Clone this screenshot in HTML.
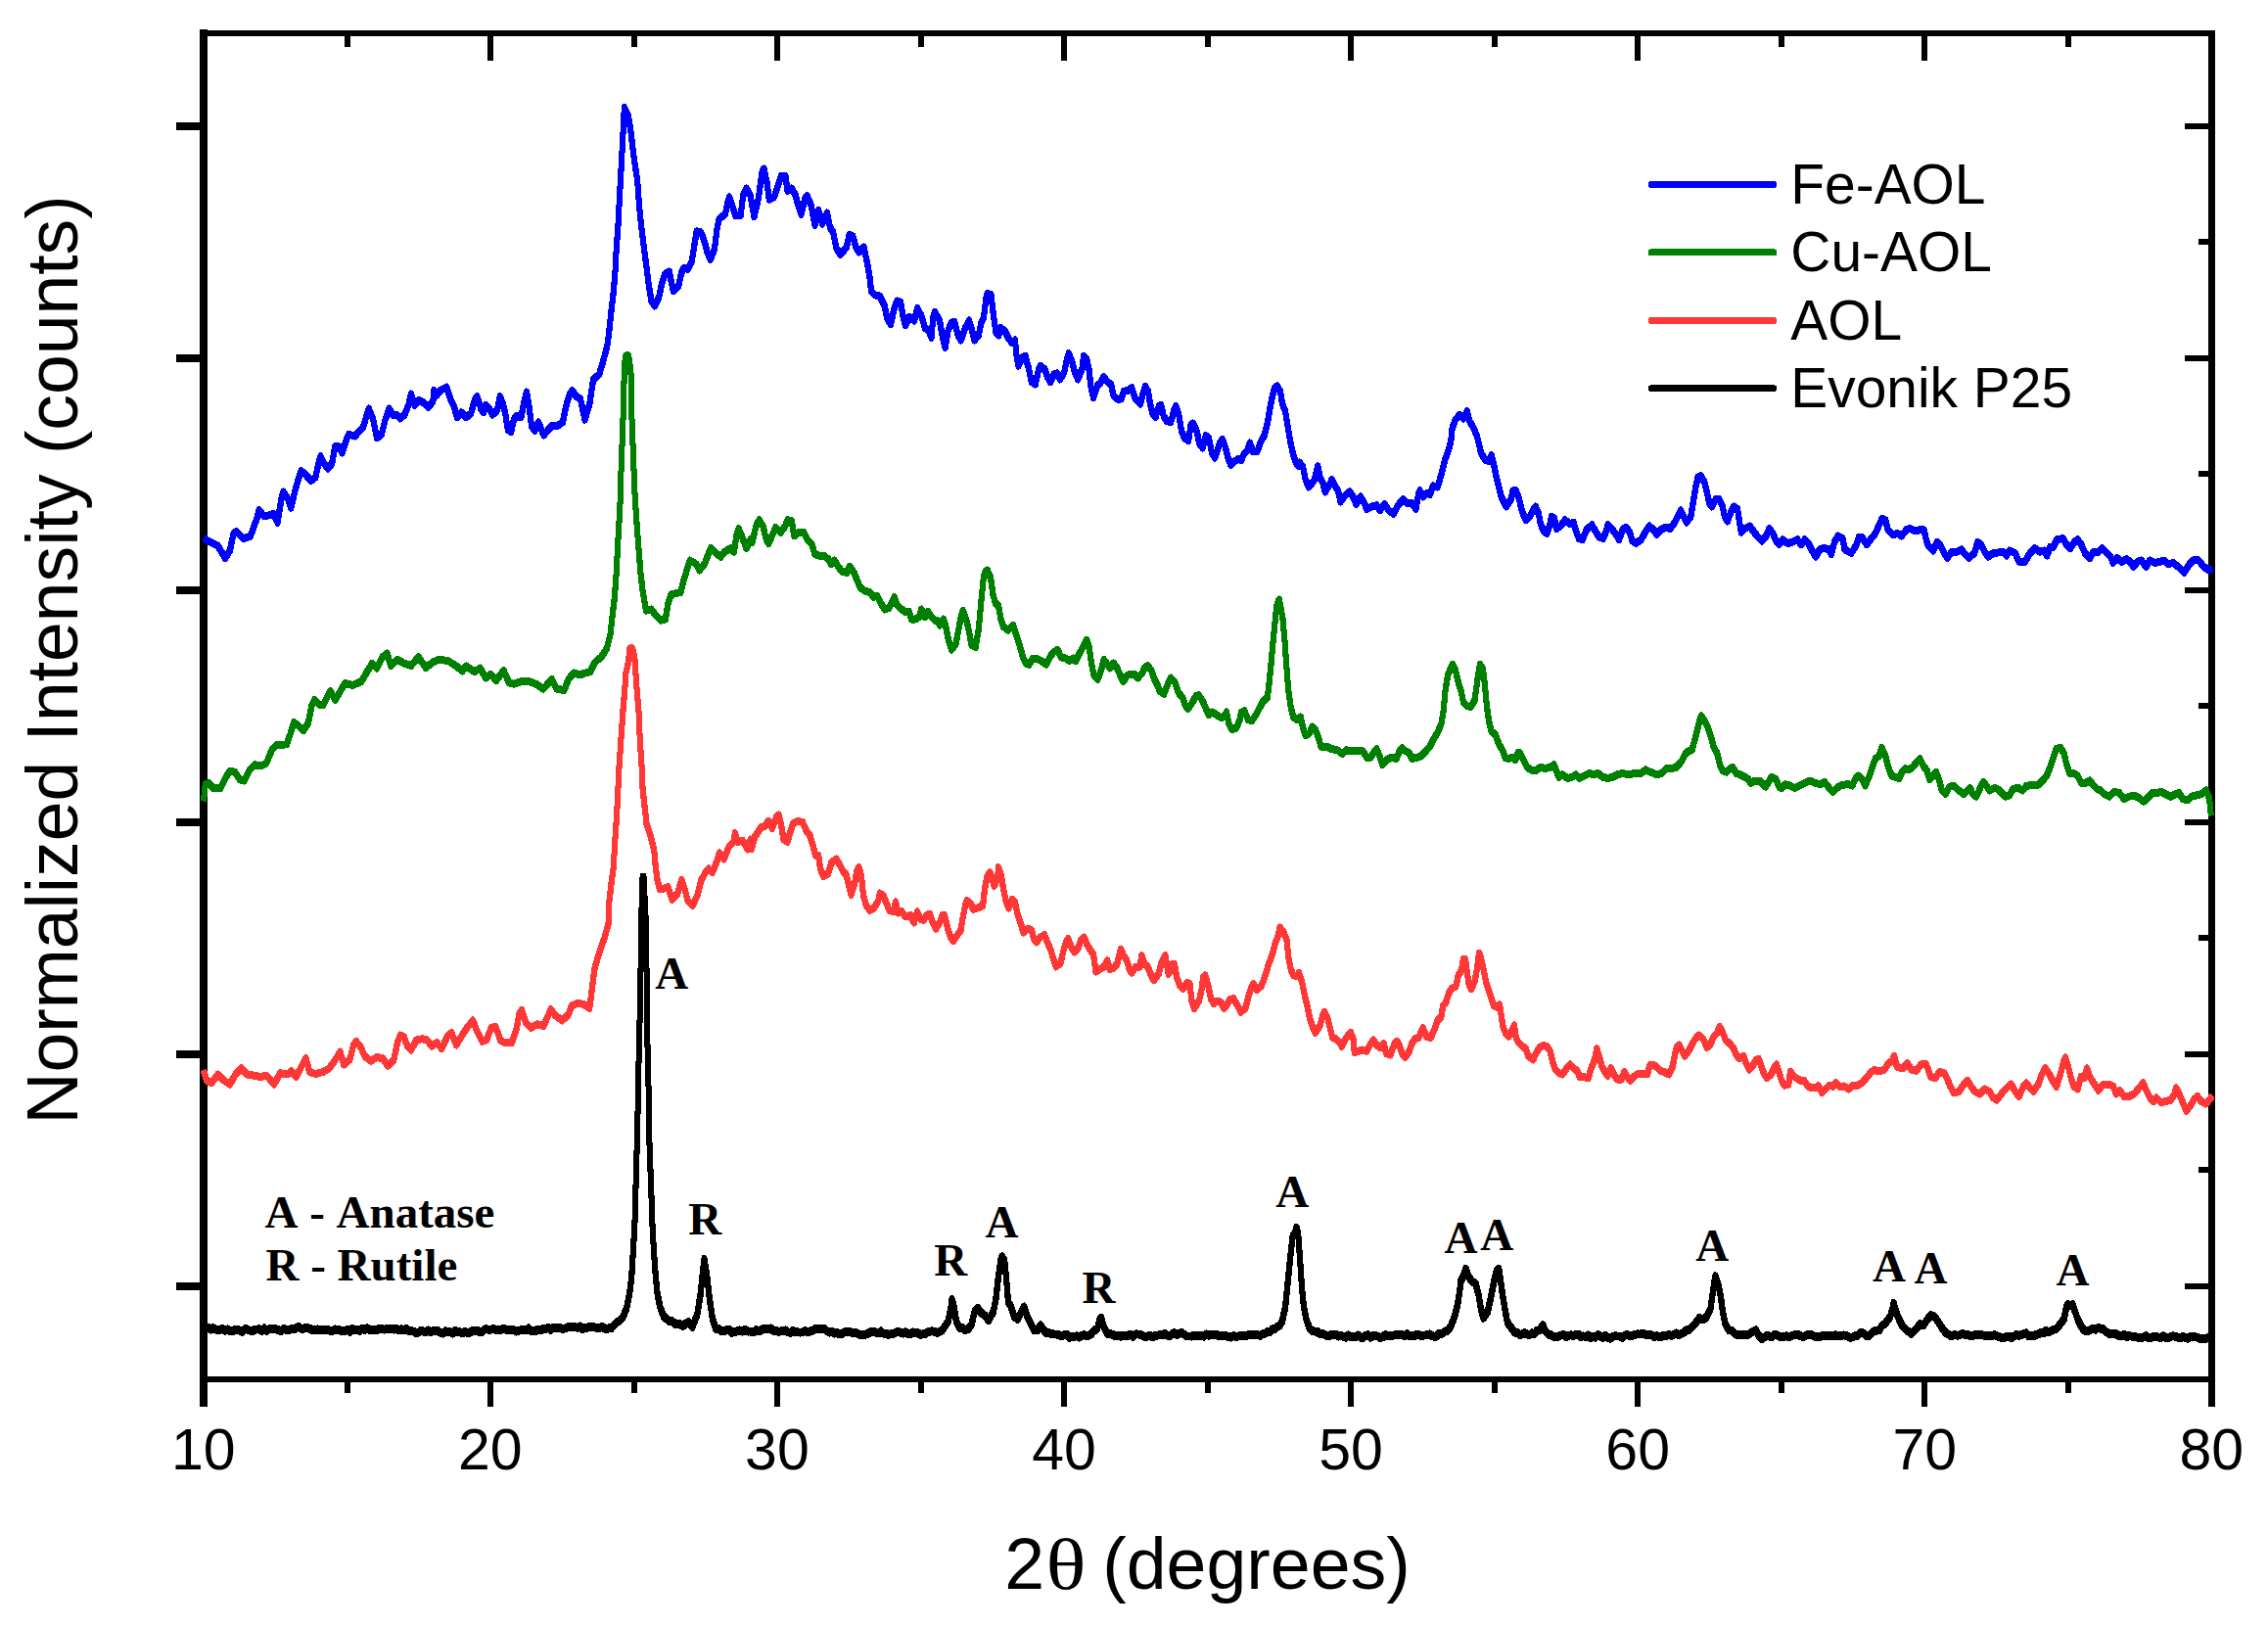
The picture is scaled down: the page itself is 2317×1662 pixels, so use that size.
<!DOCTYPE html>
<html lang="en"><head><meta charset="utf-8"><title>XRD patterns</title>
<style>html,body{margin:0;padding:0;background:#fff}body{width:2317px;height:1662px;overflow:hidden}svg{display:block}.s{font-family:"Liberation Sans",sans-serif;fill:#000;font-kerning:none}.b{font-family:"Liberation Serif",serif;font-weight:bold;fill:#000;font-size:47px;font-kerning:none}</style></head><body>
<svg width="2317" height="1662" viewBox="0 0 2317 1662" shape-rendering="crispEdges">
<rect width="2317" height="1662" fill="#fff"/>
<path d="M208,30.2 V1436.8" stroke="#000" stroke-width="8" fill="none"/>
<path d="M2259.5,31 V1436.8" stroke="#000" stroke-width="6.9" fill="none"/>
<path d="M204,34 H2263 M204,1409 H2263" stroke="#000" stroke-width="6" fill="none"/>
<g fill="none" stroke="#0000ff" stroke-width="6" stroke-linejoin="round" stroke-linecap="butt" shape-rendering="crispEdges">
<polyline transform="translate(0,-1)" points="208,550 215,553.75 222.5,557.5 230,570 234.85,562.5 238.6,545 241.25,543 248.75,550 255.69,548 262.35,530 264.5,521.25 270,527.5 275,526.25 279.5,525 283.6,533.75 287.35,510 289.5,502.5 293.75,508.75 297.27,518.75 301.1,502.5 303.6,493.75 307.69,481.25 312.5,485 317.5,491.25 322.35,487.5 325.35,473.75 327.5,466.25 331.25,473.75 335,478.75 339.1,473.75 342.3,456.25 346.25,456.25 349.52,462.5 353.6,450 356.25,443.75 362.5,445.5 370.94,436.25 376.8,417.5 381.25,428.75 385,447.5 389.85,443.75 393.6,428.75 397.5,417.5 401.25,423.75 405,423.75 408.75,427.5 413.35,423.75 417.35,413.75 420,402.5 423.75,413.75 427.5,408.75 432.5,411.25 437.5,416.25 442.35,410 443.45,398.75 446.25,403.75 450.15,398.75 456.25,395.5 460,407.5 463.75,415 467,426.25 471.25,421.25 476.25,426.25 481.1,422.5 484.85,408.75 487.5,405 491.25,417.5 493.85,421.25 496.25,413.75 500,417.5 503,423.75 508.1,418.75 510.72,405 513.75,412.5 516.25,422.5 518.75,438.75 522.21,441.25 524.85,428.75 527.5,425 532.35,426.25 536.1,407.5 538,400.5 540.5,415 543,435 546.25,440 550,431.25 555.5,444.5 560.38,438.75 563.75,435 568.75,435.5 574.85,431.25 578.6,413.75 582.31,402.5 584.5,398.75 588.75,405 593,407.5 597.5,428.75 602.35,412.5 606.1,387.5 612.15,382.5 616.6,367.5 620.4,352.9 621.9,342.3 624.2,320.2 626.8,298.2 628.6,276.1 629.7,254.1 631.4,232 632.2,216 633.6,190 635.3,159.4 637.1,124.1 637.8,110 642,118.75 644.5,135 647.5,160 651.25,185 653,210 655,230 657.5,250 660.75,275 663,292.5 665.5,307.5 668.75,312.5 673.1,303.75 676.1,290 679.32,280 683.75,277.5 686.25,290 688,297.5 693.1,292.5 696.1,278.75 698.75,273.75 702.72,275 706.6,267.5 709.85,247.5 711.75,236.25 716.25,237.5 720,247.5 722.5,257.5 725.75,265 729.85,255 732.35,235 734.61,223.75 740.96,218.75 743.6,206.25 745,201.25 748.75,212.5 751.25,220 756.6,220 759.1,200 762.5,192.5 766.75,200 767.5,205 770.5,221.25 774.85,202.5 778.6,175 780.5,172.5 783.75,187.5 785.75,203.75 790.77,201.25 794.85,190 797.87,180 802.5,180 804.5,195 808.75,192.5 812.5,198.75 815.5,210 818.48,218.75 822.35,202.5 824.5,200 828.75,210 832.5,230 836.25,215 840,228.75 845,217.5 848,232.5 851.25,237.5 854.5,253.75 858.75,260 864.85,252.5 867.62,240 871.25,241.25 874.5,252.5 877.5,257.5 882.5,252.5 886.25,270 888.75,285 890,297.5 893.75,301.25 898.75,302.5 903.75,312.5 906.25,325 909.94,331.25 913.6,315 916.41,307.5 920,308.75 922.5,322.5 925,332.5 928.75,323.75 934.07,327.5 937.05,315 941.25,322.5 945,335 948.75,337.5 951.6,345 953.1,325 955,318.75 960,327.5 963,345 965.73,355 968.6,337.5 971.64,330 975,328.75 978.75,342.5 981.66,347.5 986.1,335 990,327.5 993.75,340 995.5,347.5 999.85,342.5 1002.35,330 1004.85,325 1007.35,305 1008.75,300 1012.5,301.25 1015,322.5 1017.5,340 1020.35,342.5 1022.14,335 1026.25,337.5 1030,345 1033.75,350 1037,347.5 1038.75,365 1040.5,373.75 1044.32,365 1047.5,363.75 1051.25,377.5 1053.75,390 1057.71,392.5 1061.1,377.5 1063,373.75 1067.5,377.5 1070,385 1073,390 1076.7,382.5 1080,381.25 1083,387.5 1087.35,380 1089.85,367.5 1091.75,361.25 1095,368.75 1098,380 1101.25,387.5 1105.6,376.25 1107.09,363.75 1110,366.25 1112.5,377.5 1114.5,395 1117,406.25 1121.1,393.75 1124.14,391.25 1127.5,385 1131.25,390 1135,392.5 1137.5,403.75 1141.25,407.5 1145.41,407.5 1147.89,400 1152.5,398.75 1156.25,396.25 1160,407.5 1164.89,412.5 1168.6,398.75 1170,395 1173,400 1175,412.5 1177.5,422.5 1180.53,426.25 1183.96,415 1186.25,413.75 1188.75,425 1192,430 1196.23,431.25 1199.1,420 1201.25,415 1204.5,425 1207,440 1210,447.5 1214.1,450 1216.6,433.75 1218.75,432.5 1222.5,440 1225.5,453.75 1228.63,457.5 1231.82,445 1235,447.5 1238,462.5 1241.07,467.5 1246.1,452.5 1248.75,448.75 1251.25,455 1254.5,467.5 1257.5,475 1261.41,471.25 1265,468.75 1268.28,470 1270.78,463.75 1274.44,460 1277,452.5 1280,461.25 1284.37,461.25 1288.6,450 1291.6,445 1294.85,432.5 1297.35,417.5 1299.85,405 1301.99,396.25 1305,394.5 1308,400 1310,412.5 1313,420 1315.5,435 1318,450 1321.25,465 1323.75,472.5 1326.75,476.25 1327.5,472.5 1331.25,477.5 1333.75,490 1337,497.5 1342.35,491.25 1344.85,482.5 1346.25,476.25 1348.75,488.75 1351.25,492.5 1353.75,502.5 1358.36,495 1360.5,490 1363.75,496.25 1367,501.25 1369.5,512.5 1374.08,506.25 1378.75,502.5 1382.5,507.5 1385.5,515 1390,507.5 1393.75,513.75 1396.25,520 1401.25,517.5 1406.25,516.25 1410,521.25 1414.5,515 1418.75,521.25 1423.75,525 1428.12,516.25 1433.75,510 1437.5,513.75 1442.5,513.75 1446.43,520 1449.1,505 1450.5,501.25 1453.75,507.5 1457.5,503.75 1460.91,505 1464.03,496.25 1468.62,497.5 1472.35,485 1476.1,470 1479.85,460 1482.35,450 1483.6,437.5 1486.92,428.75 1491.25,423.75 1495,427.5 1498.75,420 1501.25,430 1505,436.25 1508.75,445 1511.25,455 1513,462.5 1517.5,470 1521.39,471.25 1523.75,465 1526.25,475 1528.75,487.5 1531.25,497.5 1533.75,507.5 1536.25,512.5 1538.75,517.5 1543.6,510 1545.55,501.25 1548.75,501.25 1552,510 1555,522.5 1558.75,531.25 1563.12,527.5 1566.94,520 1568.75,517.5 1572,525 1573.75,535 1577,542.5 1580.53,545 1583.6,535 1585.21,527.5 1588,530 1590,540 1594.03,537.5 1598.75,531.25 1603.75,535 1607.5,533.75 1610,542.5 1613,550 1616.7,551.25 1620.62,541.25 1626.25,536.25 1630,542.5 1633.75,548.75 1637.78,550 1641.1,542.5 1642.5,536.25 1647.5,541.25 1651.25,546.25 1654.03,551.25 1658.23,540 1661.25,538.75 1665,543.75 1667.5,552.5 1671.25,555 1676.72,551.25 1680.67,543.75 1685,537.5 1689.5,541.25 1692.5,546.25 1696.43,541.25 1701.25,538.75 1706.25,540 1710.85,533.75 1714.57,526.25 1717,521.25 1720,527.5 1723,533.75 1727.35,527.5 1729.85,512.5 1732.35,497.5 1734.58,487.5 1737.5,486.25 1741.25,492.5 1743.75,502.5 1746.25,513.75 1748.75,517.5 1752.78,510 1756.25,510 1759.5,516.25 1762,527.5 1764.71,532.5 1768.6,522.5 1771.25,517.5 1775,520 1777,532.5 1778.75,543.75 1782.58,540 1787.5,537.5 1791.25,542.5 1795,547.5 1800,552.5 1804.48,547.5 1807.5,540 1811.25,545 1814.5,552.5 1817.5,556.25 1821.25,551.25 1826.25,555 1831.25,553.75 1836.25,551.25 1840,556.25 1843.75,551.25 1847.5,555 1851.25,562.5 1855,568.75 1859.03,561.25 1863.75,560 1868.75,561.25 1870.8,566.25 1874.1,553.75 1877.5,547.5 1882.5,550 1884.5,561.25 1891.25,565 1896.08,557.5 1899.14,548.75 1902.5,548.75 1907,556.25 1911.8,550 1915.85,545 1919.71,536.25 1922.55,530 1926.25,531.25 1928.75,541.25 1933.75,546.25 1938.75,545 1942.5,547.5 1947.68,541.25 1951.25,540 1956.25,542.5 1961.25,541.25 1965.5,541.25 1967.5,550 1970,557.5 1975,562.5 1978.8,553.75 1982.5,557.5 1986.25,565 1989.5,570 1993.8,563.75 1998.75,563.75 2003.75,561.25 2007.5,566.25 2011.25,570 2017.11,565 2020.39,553.75 2023.75,556.25 2027.5,563.75 2031.25,568.75 2036.25,565 2041.25,564.5 2046.25,563.75 2050,567.5 2053,562.5 2058.75,565 2062.5,573.75 2068.85,573.75 2073.03,566.25 2078.75,560 2083.75,563.75 2088.75,562.5 2091.35,567.5 2094.3,558.75 2097.78,558.75 2101.44,551.25 2107.5,550 2111.25,556.25 2115,560 2119.14,553.75 2122.5,551.25 2126.25,556.25 2130,565 2135,570 2138.83,563.75 2143.75,563.75 2147.5,560 2152.5,565 2156.25,568.75 2158.75,575 2162.5,570 2167.5,573.75 2172.5,571.25 2176.25,573.75 2179.5,578.75 2183.87,573.75 2187.5,572.5 2192.5,578.75 2196.25,572.5 2201.25,575 2206.25,573.75 2211.25,572.5 2215,576.25 2220,575 2225,578.75 2231.25,585 2236.73,576.25 2241.25,572 2246.25,572.5 2251.25,578.75 2256.25,582.5 2260,580.5"/>
<polyline transform="translate(0,0)" points="208,550 215,553.75 222.5,557.5 230,570 234.85,562.5 238.6,545 241.25,543 248.75,550 255.69,548 262.35,530 264.5,521.25 270,527.5 275,526.25 279.5,525 283.6,533.75 287.35,510 289.5,502.5 293.75,508.75 297.27,518.75 301.1,502.5 303.6,493.75 307.69,481.25 312.5,485 317.5,491.25 322.35,487.5 325.35,473.75 327.5,466.25 331.25,473.75 335,478.75 339.1,473.75 342.3,456.25 346.25,456.25 349.52,462.5 353.6,450 356.25,443.75 362.5,445.5 370.94,436.25 376.8,417.5 381.25,428.75 385,447.5 389.85,443.75 393.6,428.75 397.5,417.5 401.25,423.75 405,423.75 408.75,427.5 413.35,423.75 417.35,413.75 420,402.5 423.75,413.75 427.5,408.75 432.5,411.25 437.5,416.25 442.35,410 443.45,398.75 446.25,403.75 450.15,398.75 456.25,395.5 460,407.5 463.75,415 467,426.25 471.25,421.25 476.25,426.25 481.1,422.5 484.85,408.75 487.5,405 491.25,417.5 493.85,421.25 496.25,413.75 500,417.5 503,423.75 508.1,418.75 510.72,405 513.75,412.5 516.25,422.5 518.75,438.75 522.21,441.25 524.85,428.75 527.5,425 532.35,426.25 536.1,407.5 538,400.5 540.5,415 543,435 546.25,440 550,431.25 555.5,444.5 560.38,438.75 563.75,435 568.75,435.5 574.85,431.25 578.6,413.75 582.31,402.5 584.5,398.75 588.75,405 593,407.5 597.5,428.75 602.35,412.5 606.1,387.5 612.15,382.5 616.6,367.5 620.4,352.9 621.9,342.3 624.2,320.2 626.8,298.2 628.6,276.1 629.7,254.1 631.4,232 632.2,216 633.6,190 635.3,159.4 637.1,124.1 637.8,110 642,118.75 644.5,135 647.5,160 651.25,185 653,210 655,230 657.5,250 660.75,275 663,292.5 665.5,307.5 668.75,312.5 673.1,303.75 676.1,290 679.32,280 683.75,277.5 686.25,290 688,297.5 693.1,292.5 696.1,278.75 698.75,273.75 702.72,275 706.6,267.5 709.85,247.5 711.75,236.25 716.25,237.5 720,247.5 722.5,257.5 725.75,265 729.85,255 732.35,235 734.61,223.75 740.96,218.75 743.6,206.25 745,201.25 748.75,212.5 751.25,220 756.6,220 759.1,200 762.5,192.5 766.75,200 767.5,205 770.5,221.25 774.85,202.5 778.6,175 780.5,172.5 783.75,187.5 785.75,203.75 790.77,201.25 794.85,190 797.87,180 802.5,180 804.5,195 808.75,192.5 812.5,198.75 815.5,210 818.48,218.75 822.35,202.5 824.5,200 828.75,210 832.5,230 836.25,215 840,228.75 845,217.5 848,232.5 851.25,237.5 854.5,253.75 858.75,260 864.85,252.5 867.62,240 871.25,241.25 874.5,252.5 877.5,257.5 882.5,252.5 886.25,270 888.75,285 890,297.5 893.75,301.25 898.75,302.5 903.75,312.5 906.25,325 909.94,331.25 913.6,315 916.41,307.5 920,308.75 922.5,322.5 925,332.5 928.75,323.75 934.07,327.5 937.05,315 941.25,322.5 945,335 948.75,337.5 951.6,345 953.1,325 955,318.75 960,327.5 963,345 965.73,355 968.6,337.5 971.64,330 975,328.75 978.75,342.5 981.66,347.5 986.1,335 990,327.5 993.75,340 995.5,347.5 999.85,342.5 1002.35,330 1004.85,325 1007.35,305 1008.75,300 1012.5,301.25 1015,322.5 1017.5,340 1020.35,342.5 1022.14,335 1026.25,337.5 1030,345 1033.75,350 1037,347.5 1038.75,365 1040.5,373.75 1044.32,365 1047.5,363.75 1051.25,377.5 1053.75,390 1057.71,392.5 1061.1,377.5 1063,373.75 1067.5,377.5 1070,385 1073,390 1076.7,382.5 1080,381.25 1083,387.5 1087.35,380 1089.85,367.5 1091.75,361.25 1095,368.75 1098,380 1101.25,387.5 1105.6,376.25 1107.09,363.75 1110,366.25 1112.5,377.5 1114.5,395 1117,406.25 1121.1,393.75 1124.14,391.25 1127.5,385 1131.25,390 1135,392.5 1137.5,403.75 1141.25,407.5 1145.41,407.5 1147.89,400 1152.5,398.75 1156.25,396.25 1160,407.5 1164.89,412.5 1168.6,398.75 1170,395 1173,400 1175,412.5 1177.5,422.5 1180.53,426.25 1183.96,415 1186.25,413.75 1188.75,425 1192,430 1196.23,431.25 1199.1,420 1201.25,415 1204.5,425 1207,440 1210,447.5 1214.1,450 1216.6,433.75 1218.75,432.5 1222.5,440 1225.5,453.75 1228.63,457.5 1231.82,445 1235,447.5 1238,462.5 1241.07,467.5 1246.1,452.5 1248.75,448.75 1251.25,455 1254.5,467.5 1257.5,475 1261.41,471.25 1265,468.75 1268.28,470 1270.78,463.75 1274.44,460 1277,452.5 1280,461.25 1284.37,461.25 1288.6,450 1291.6,445 1294.85,432.5 1297.35,417.5 1299.85,405 1301.99,396.25 1305,394.5 1308,400 1310,412.5 1313,420 1315.5,435 1318,450 1321.25,465 1323.75,472.5 1326.75,476.25 1327.5,472.5 1331.25,477.5 1333.75,490 1337,497.5 1342.35,491.25 1344.85,482.5 1346.25,476.25 1348.75,488.75 1351.25,492.5 1353.75,502.5 1358.36,495 1360.5,490 1363.75,496.25 1367,501.25 1369.5,512.5 1374.08,506.25 1378.75,502.5 1382.5,507.5 1385.5,515 1390,507.5 1393.75,513.75 1396.25,520 1401.25,517.5 1406.25,516.25 1410,521.25 1414.5,515 1418.75,521.25 1423.75,525 1428.12,516.25 1433.75,510 1437.5,513.75 1442.5,513.75 1446.43,520 1449.1,505 1450.5,501.25 1453.75,507.5 1457.5,503.75 1460.91,505 1464.03,496.25 1468.62,497.5 1472.35,485 1476.1,470 1479.85,460 1482.35,450 1483.6,437.5 1486.92,428.75 1491.25,423.75 1495,427.5 1498.75,420 1501.25,430 1505,436.25 1508.75,445 1511.25,455 1513,462.5 1517.5,470 1521.39,471.25 1523.75,465 1526.25,475 1528.75,487.5 1531.25,497.5 1533.75,507.5 1536.25,512.5 1538.75,517.5 1543.6,510 1545.55,501.25 1548.75,501.25 1552,510 1555,522.5 1558.75,531.25 1563.12,527.5 1566.94,520 1568.75,517.5 1572,525 1573.75,535 1577,542.5 1580.53,545 1583.6,535 1585.21,527.5 1588,530 1590,540 1594.03,537.5 1598.75,531.25 1603.75,535 1607.5,533.75 1610,542.5 1613,550 1616.7,551.25 1620.62,541.25 1626.25,536.25 1630,542.5 1633.75,548.75 1637.78,550 1641.1,542.5 1642.5,536.25 1647.5,541.25 1651.25,546.25 1654.03,551.25 1658.23,540 1661.25,538.75 1665,543.75 1667.5,552.5 1671.25,555 1676.72,551.25 1680.67,543.75 1685,537.5 1689.5,541.25 1692.5,546.25 1696.43,541.25 1701.25,538.75 1706.25,540 1710.85,533.75 1714.57,526.25 1717,521.25 1720,527.5 1723,533.75 1727.35,527.5 1729.85,512.5 1732.35,497.5 1734.58,487.5 1737.5,486.25 1741.25,492.5 1743.75,502.5 1746.25,513.75 1748.75,517.5 1752.78,510 1756.25,510 1759.5,516.25 1762,527.5 1764.71,532.5 1768.6,522.5 1771.25,517.5 1775,520 1777,532.5 1778.75,543.75 1782.58,540 1787.5,537.5 1791.25,542.5 1795,547.5 1800,552.5 1804.48,547.5 1807.5,540 1811.25,545 1814.5,552.5 1817.5,556.25 1821.25,551.25 1826.25,555 1831.25,553.75 1836.25,551.25 1840,556.25 1843.75,551.25 1847.5,555 1851.25,562.5 1855,568.75 1859.03,561.25 1863.75,560 1868.75,561.25 1870.8,566.25 1874.1,553.75 1877.5,547.5 1882.5,550 1884.5,561.25 1891.25,565 1896.08,557.5 1899.14,548.75 1902.5,548.75 1907,556.25 1911.8,550 1915.85,545 1919.71,536.25 1922.55,530 1926.25,531.25 1928.75,541.25 1933.75,546.25 1938.75,545 1942.5,547.5 1947.68,541.25 1951.25,540 1956.25,542.5 1961.25,541.25 1965.5,541.25 1967.5,550 1970,557.5 1975,562.5 1978.8,553.75 1982.5,557.5 1986.25,565 1989.5,570 1993.8,563.75 1998.75,563.75 2003.75,561.25 2007.5,566.25 2011.25,570 2017.11,565 2020.39,553.75 2023.75,556.25 2027.5,563.75 2031.25,568.75 2036.25,565 2041.25,564.5 2046.25,563.75 2050,567.5 2053,562.5 2058.75,565 2062.5,573.75 2068.85,573.75 2073.03,566.25 2078.75,560 2083.75,563.75 2088.75,562.5 2091.35,567.5 2094.3,558.75 2097.78,558.75 2101.44,551.25 2107.5,550 2111.25,556.25 2115,560 2119.14,553.75 2122.5,551.25 2126.25,556.25 2130,565 2135,570 2138.83,563.75 2143.75,563.75 2147.5,560 2152.5,565 2156.25,568.75 2158.75,575 2162.5,570 2167.5,573.75 2172.5,571.25 2176.25,573.75 2179.5,578.75 2183.87,573.75 2187.5,572.5 2192.5,578.75 2196.25,572.5 2201.25,575 2206.25,573.75 2211.25,572.5 2215,576.25 2220,575 2225,578.75 2231.25,585 2236.73,576.25 2241.25,572 2246.25,572.5 2251.25,578.75 2256.25,582.5 2260,580.5"/>
<polyline transform="translate(0,1)" points="208,550 215,553.75 222.5,557.5 230,570 234.85,562.5 238.6,545 241.25,543 248.75,550 255.69,548 262.35,530 264.5,521.25 270,527.5 275,526.25 279.5,525 283.6,533.75 287.35,510 289.5,502.5 293.75,508.75 297.27,518.75 301.1,502.5 303.6,493.75 307.69,481.25 312.5,485 317.5,491.25 322.35,487.5 325.35,473.75 327.5,466.25 331.25,473.75 335,478.75 339.1,473.75 342.3,456.25 346.25,456.25 349.52,462.5 353.6,450 356.25,443.75 362.5,445.5 370.94,436.25 376.8,417.5 381.25,428.75 385,447.5 389.85,443.75 393.6,428.75 397.5,417.5 401.25,423.75 405,423.75 408.75,427.5 413.35,423.75 417.35,413.75 420,402.5 423.75,413.75 427.5,408.75 432.5,411.25 437.5,416.25 442.35,410 443.45,398.75 446.25,403.75 450.15,398.75 456.25,395.5 460,407.5 463.75,415 467,426.25 471.25,421.25 476.25,426.25 481.1,422.5 484.85,408.75 487.5,405 491.25,417.5 493.85,421.25 496.25,413.75 500,417.5 503,423.75 508.1,418.75 510.72,405 513.75,412.5 516.25,422.5 518.75,438.75 522.21,441.25 524.85,428.75 527.5,425 532.35,426.25 536.1,407.5 538,400.5 540.5,415 543,435 546.25,440 550,431.25 555.5,444.5 560.38,438.75 563.75,435 568.75,435.5 574.85,431.25 578.6,413.75 582.31,402.5 584.5,398.75 588.75,405 593,407.5 597.5,428.75 602.35,412.5 606.1,387.5 612.15,382.5 616.6,367.5 620.4,352.9 621.9,342.3 624.2,320.2 626.8,298.2 628.6,276.1 629.7,254.1 631.4,232 632.2,216 633.6,190 635.3,159.4 637.1,124.1 637.8,110 642,118.75 644.5,135 647.5,160 651.25,185 653,210 655,230 657.5,250 660.75,275 663,292.5 665.5,307.5 668.75,312.5 673.1,303.75 676.1,290 679.32,280 683.75,277.5 686.25,290 688,297.5 693.1,292.5 696.1,278.75 698.75,273.75 702.72,275 706.6,267.5 709.85,247.5 711.75,236.25 716.25,237.5 720,247.5 722.5,257.5 725.75,265 729.85,255 732.35,235 734.61,223.75 740.96,218.75 743.6,206.25 745,201.25 748.75,212.5 751.25,220 756.6,220 759.1,200 762.5,192.5 766.75,200 767.5,205 770.5,221.25 774.85,202.5 778.6,175 780.5,172.5 783.75,187.5 785.75,203.75 790.77,201.25 794.85,190 797.87,180 802.5,180 804.5,195 808.75,192.5 812.5,198.75 815.5,210 818.48,218.75 822.35,202.5 824.5,200 828.75,210 832.5,230 836.25,215 840,228.75 845,217.5 848,232.5 851.25,237.5 854.5,253.75 858.75,260 864.85,252.5 867.62,240 871.25,241.25 874.5,252.5 877.5,257.5 882.5,252.5 886.25,270 888.75,285 890,297.5 893.75,301.25 898.75,302.5 903.75,312.5 906.25,325 909.94,331.25 913.6,315 916.41,307.5 920,308.75 922.5,322.5 925,332.5 928.75,323.75 934.07,327.5 937.05,315 941.25,322.5 945,335 948.75,337.5 951.6,345 953.1,325 955,318.75 960,327.5 963,345 965.73,355 968.6,337.5 971.64,330 975,328.75 978.75,342.5 981.66,347.5 986.1,335 990,327.5 993.75,340 995.5,347.5 999.85,342.5 1002.35,330 1004.85,325 1007.35,305 1008.75,300 1012.5,301.25 1015,322.5 1017.5,340 1020.35,342.5 1022.14,335 1026.25,337.5 1030,345 1033.75,350 1037,347.5 1038.75,365 1040.5,373.75 1044.32,365 1047.5,363.75 1051.25,377.5 1053.75,390 1057.71,392.5 1061.1,377.5 1063,373.75 1067.5,377.5 1070,385 1073,390 1076.7,382.5 1080,381.25 1083,387.5 1087.35,380 1089.85,367.5 1091.75,361.25 1095,368.75 1098,380 1101.25,387.5 1105.6,376.25 1107.09,363.75 1110,366.25 1112.5,377.5 1114.5,395 1117,406.25 1121.1,393.75 1124.14,391.25 1127.5,385 1131.25,390 1135,392.5 1137.5,403.75 1141.25,407.5 1145.41,407.5 1147.89,400 1152.5,398.75 1156.25,396.25 1160,407.5 1164.89,412.5 1168.6,398.75 1170,395 1173,400 1175,412.5 1177.5,422.5 1180.53,426.25 1183.96,415 1186.25,413.75 1188.75,425 1192,430 1196.23,431.25 1199.1,420 1201.25,415 1204.5,425 1207,440 1210,447.5 1214.1,450 1216.6,433.75 1218.75,432.5 1222.5,440 1225.5,453.75 1228.63,457.5 1231.82,445 1235,447.5 1238,462.5 1241.07,467.5 1246.1,452.5 1248.75,448.75 1251.25,455 1254.5,467.5 1257.5,475 1261.41,471.25 1265,468.75 1268.28,470 1270.78,463.75 1274.44,460 1277,452.5 1280,461.25 1284.37,461.25 1288.6,450 1291.6,445 1294.85,432.5 1297.35,417.5 1299.85,405 1301.99,396.25 1305,394.5 1308,400 1310,412.5 1313,420 1315.5,435 1318,450 1321.25,465 1323.75,472.5 1326.75,476.25 1327.5,472.5 1331.25,477.5 1333.75,490 1337,497.5 1342.35,491.25 1344.85,482.5 1346.25,476.25 1348.75,488.75 1351.25,492.5 1353.75,502.5 1358.36,495 1360.5,490 1363.75,496.25 1367,501.25 1369.5,512.5 1374.08,506.25 1378.75,502.5 1382.5,507.5 1385.5,515 1390,507.5 1393.75,513.75 1396.25,520 1401.25,517.5 1406.25,516.25 1410,521.25 1414.5,515 1418.75,521.25 1423.75,525 1428.12,516.25 1433.75,510 1437.5,513.75 1442.5,513.75 1446.43,520 1449.1,505 1450.5,501.25 1453.75,507.5 1457.5,503.75 1460.91,505 1464.03,496.25 1468.62,497.5 1472.35,485 1476.1,470 1479.85,460 1482.35,450 1483.6,437.5 1486.92,428.75 1491.25,423.75 1495,427.5 1498.75,420 1501.25,430 1505,436.25 1508.75,445 1511.25,455 1513,462.5 1517.5,470 1521.39,471.25 1523.75,465 1526.25,475 1528.75,487.5 1531.25,497.5 1533.75,507.5 1536.25,512.5 1538.75,517.5 1543.6,510 1545.55,501.25 1548.75,501.25 1552,510 1555,522.5 1558.75,531.25 1563.12,527.5 1566.94,520 1568.75,517.5 1572,525 1573.75,535 1577,542.5 1580.53,545 1583.6,535 1585.21,527.5 1588,530 1590,540 1594.03,537.5 1598.75,531.25 1603.75,535 1607.5,533.75 1610,542.5 1613,550 1616.7,551.25 1620.62,541.25 1626.25,536.25 1630,542.5 1633.75,548.75 1637.78,550 1641.1,542.5 1642.5,536.25 1647.5,541.25 1651.25,546.25 1654.03,551.25 1658.23,540 1661.25,538.75 1665,543.75 1667.5,552.5 1671.25,555 1676.72,551.25 1680.67,543.75 1685,537.5 1689.5,541.25 1692.5,546.25 1696.43,541.25 1701.25,538.75 1706.25,540 1710.85,533.75 1714.57,526.25 1717,521.25 1720,527.5 1723,533.75 1727.35,527.5 1729.85,512.5 1732.35,497.5 1734.58,487.5 1737.5,486.25 1741.25,492.5 1743.75,502.5 1746.25,513.75 1748.75,517.5 1752.78,510 1756.25,510 1759.5,516.25 1762,527.5 1764.71,532.5 1768.6,522.5 1771.25,517.5 1775,520 1777,532.5 1778.75,543.75 1782.58,540 1787.5,537.5 1791.25,542.5 1795,547.5 1800,552.5 1804.48,547.5 1807.5,540 1811.25,545 1814.5,552.5 1817.5,556.25 1821.25,551.25 1826.25,555 1831.25,553.75 1836.25,551.25 1840,556.25 1843.75,551.25 1847.5,555 1851.25,562.5 1855,568.75 1859.03,561.25 1863.75,560 1868.75,561.25 1870.8,566.25 1874.1,553.75 1877.5,547.5 1882.5,550 1884.5,561.25 1891.25,565 1896.08,557.5 1899.14,548.75 1902.5,548.75 1907,556.25 1911.8,550 1915.85,545 1919.71,536.25 1922.55,530 1926.25,531.25 1928.75,541.25 1933.75,546.25 1938.75,545 1942.5,547.5 1947.68,541.25 1951.25,540 1956.25,542.5 1961.25,541.25 1965.5,541.25 1967.5,550 1970,557.5 1975,562.5 1978.8,553.75 1982.5,557.5 1986.25,565 1989.5,570 1993.8,563.75 1998.75,563.75 2003.75,561.25 2007.5,566.25 2011.25,570 2017.11,565 2020.39,553.75 2023.75,556.25 2027.5,563.75 2031.25,568.75 2036.25,565 2041.25,564.5 2046.25,563.75 2050,567.5 2053,562.5 2058.75,565 2062.5,573.75 2068.85,573.75 2073.03,566.25 2078.75,560 2083.75,563.75 2088.75,562.5 2091.35,567.5 2094.3,558.75 2097.78,558.75 2101.44,551.25 2107.5,550 2111.25,556.25 2115,560 2119.14,553.75 2122.5,551.25 2126.25,556.25 2130,565 2135,570 2138.83,563.75 2143.75,563.75 2147.5,560 2152.5,565 2156.25,568.75 2158.75,575 2162.5,570 2167.5,573.75 2172.5,571.25 2176.25,573.75 2179.5,578.75 2183.87,573.75 2187.5,572.5 2192.5,578.75 2196.25,572.5 2201.25,575 2206.25,573.75 2211.25,572.5 2215,576.25 2220,575 2225,578.75 2231.25,585 2236.73,576.25 2241.25,572 2246.25,572.5 2251.25,578.75 2256.25,582.5 2260,580.5"/>
</g>
<g fill="none" stroke="#008000" stroke-width="6" stroke-linejoin="round" stroke-linecap="butt" shape-rendering="crispEdges">
<polyline transform="translate(0,-1)" points="208,817.5 209.85,801.25 213.75,800 217.5,805 225.21,805 230.79,793.75 235,787.5 240,788.75 245,796.25 249.53,797.5 254.38,787.5 260,781.25 266.25,782.5 271.91,780 278.23,765 282.5,761.25 287.5,761.25 293.17,760 297.35,747.5 300.08,738 305,741.25 310,746.25 314.85,738.75 318.6,720 321.25,715 326.25,720 330.39,720 334.6,711.25 337.5,706.25 342.5,715 348.26,705 352.5,698 360,700 369.02,696.25 375.7,685 380,678 385.05,682.5 390.57,671.25 395.5,667.5 399.25,680 406.25,673.75 412.5,677.5 420,680 427.5,671.25 435,682 442.5,676.25 448.75,673.75 457.5,675 465,679.5 472.5,685.5 476.25,680.5 485,686.25 490.5,682.5 496.25,692.5 501.25,688.75 507,695 514.5,685 520,697.5 525,698.75 532.5,696.25 541.25,696.25 547.5,698.75 555,703.75 563.75,693.75 568.75,703.75 576.45,705 580.79,693.75 586.25,687.5 592.5,689.5 596.25,688 602.81,686.25 608,676.25 614.18,671.25 619.85,662.5 623.6,647.5 626.3,622.9 627.7,612.3 629.7,585.8 631,559.4 632.5,532.9 633.9,506.5 634.5,482 636.5,428.2 637.7,384 638.6,368 639.6,363.2 641.8,363.2 642.9,368 644.7,384 645.5,428.2 647.6,482 648.6,506.5 650.4,532.9 652.4,559.4 654.5,585.8 656.6,603.5 658.8,616.7 660,623.75 665.5,622.5 670,628.75 675,633.75 679.85,632.5 682.35,617.5 685.47,607.5 690,606.25 695.35,605 698.6,592.5 702.35,580 705,572.5 711.25,576.25 714.5,582.5 719.73,576.25 723.58,566.25 726.25,560 731.25,565 736.25,568.75 740.19,563.75 746.25,560 749.85,563.75 752.35,547.5 754.5,540 758.75,550 762.5,560 766.7,551.25 768.6,553.75 772.35,537.5 775.5,531.25 779.5,537.5 782.5,550 785.14,555 789.83,545 792.5,538.75 797.5,543.75 802.07,537.5 804.59,531.25 808.75,532 811.25,547.5 816.25,543.75 821.25,543.75 825,551.25 829.5,556.25 832.5,566.25 836.25,567.5 841.25,567.5 846.25,571.25 848.75,576.25 852.5,572.5 856.25,578.75 860,583.75 865.02,585 868,578.75 872.5,585 875.5,592.5 878.75,600 883.75,603.75 888.75,605 892.5,610 896.25,608.75 900,616.25 903.75,622.5 907.89,621.25 912.08,613.75 913.75,610 916.25,617.5 921.25,622.5 925,625 928.75,625 931.25,632.5 935,632.5 939.44,630 941.25,622.5 945,630 948,625 951.25,630 955,633.75 957.5,633.75 960,638.75 963.75,632.5 966.25,640 968.75,652.5 972,663.75 976.6,657.5 979.85,640 982.35,627.5 983.75,623.75 987,632.5 990,645 992.5,658.75 996.6,661.25 999.85,642.5 1002.35,615 1004.85,590 1006.87,583.75 1008.75,582.5 1012,590 1014.5,607.5 1017,616.25 1020,618.75 1022.5,632.5 1025,640 1030,643.75 1035,638.75 1038,647.5 1041.25,657.5 1045,671.25 1048,677.5 1051.33,678.75 1055.16,672.5 1058.75,672.5 1063.75,675 1068.75,678.75 1073.23,670 1076.37,666.25 1080.5,663.75 1083.75,671.25 1088.75,672.5 1092.5,675 1096.25,672.5 1099.03,675 1103.46,666.25 1106.98,660 1110,653.75 1112.5,660 1115,677.5 1117.5,690 1121.57,693.75 1125.6,682.5 1127.66,673.75 1130.5,677.5 1133.75,682.5 1137.5,677.5 1141.25,682.5 1145,691.25 1147.5,696.25 1151.53,690 1155,688.75 1158.75,688.75 1162.5,692.5 1166.94,687.5 1169.91,681.25 1172.5,680 1176.25,685 1178.75,692.5 1182.5,700 1185,706.25 1189.14,708.75 1193.58,697.5 1196.25,692.5 1200,696.25 1203.75,707.5 1208,712.5 1211.25,721.25 1213.75,723.75 1218.23,717.5 1221.57,711.25 1224.5,710 1228.75,716.25 1232.5,725 1235,730 1238.75,727.5 1242.5,730 1246.25,732.5 1250.1,732.5 1253,727.5 1255.5,740 1258.75,745 1263.11,743.75 1266.6,735 1268.13,727.5 1271.25,726.25 1275,735 1278.8,736.25 1283.35,730 1287.1,722.5 1290.5,716.25 1294.85,712.5 1296.6,697.5 1298.6,677.5 1300.6,655 1302.35,637.5 1304.1,620 1305.96,613.75 1306.75,612.5 1308.75,622.5 1310.5,632.5 1312.5,655 1314.25,680 1316.25,705 1318.75,722.5 1321.25,732.5 1325,735 1328.75,732.5 1331.25,743.75 1333.75,751.25 1337.98,748.75 1340.5,742.5 1343.75,745 1347,753.75 1349.5,762.5 1355,762.5 1360,765 1366.25,766.25 1371.25,770 1375,766.25 1382.5,767.5 1387.5,767 1392.5,767.5 1396.25,773.75 1400.16,773.75 1404.3,767.5 1406.25,765 1409.5,772.5 1412.5,781.25 1416.43,776.25 1421.25,773.75 1426.46,775 1430.33,766.25 1432.5,763.75 1436.25,767.5 1439.5,768.75 1442.5,775 1447.5,773.75 1451.33,772.5 1456.62,767.5 1460.73,762.5 1464.6,755 1468.46,748.75 1472.35,740 1474.85,725 1476.6,705 1479.1,690 1482.08,682.5 1484.25,678.75 1487,685 1490,697.5 1493,707.5 1495,717.5 1498.75,721.25 1502.72,722 1506.6,715 1508.6,700 1510.6,686.25 1512,678.75 1515,683.75 1517,700 1518.75,720 1521.25,737.5 1523.75,747.5 1527.5,750 1531.25,760 1535,766.25 1537.5,773.75 1541.25,775 1545,773.75 1548.28,776.25 1550.73,768.75 1552.5,768.75 1556.25,776.25 1560,783.75 1563.75,786.25 1568.75,787.5 1573.75,783.75 1578.75,785 1583.75,783.75 1587.5,781.25 1590,787.5 1592.5,793.75 1596.25,791.25 1601.25,795 1606.25,793.75 1610,791.25 1613.75,795 1618.75,792.5 1623.75,790 1628.75,791.25 1632.5,790 1637.5,793.75 1642.5,795 1647.5,793.75 1652.5,791.25 1657.5,790 1663.75,791.25 1670,790 1676.25,790 1681.25,786.25 1686.25,788.75 1692.5,791.25 1697.52,790 1702.5,785 1707.5,785 1712.6,783.75 1718.17,777.5 1721.82,770 1724.5,767.5 1728.52,766.25 1731.6,755 1734.1,745 1736.6,735 1738,731.25 1741.25,736.25 1745,743.75 1748,752.5 1750.5,762.5 1754.5,770 1757,781.25 1760,787.5 1763.75,788.75 1767.64,785 1770,783.75 1773.75,790 1777.5,791.25 1782.5,793.75 1786.25,796.25 1788.75,800 1792.5,797.5 1797.5,797.5 1801.25,801.25 1803.89,803.75 1808.19,796.25 1810,793.75 1814.5,796.25 1817.5,803.75 1820,805 1823.75,801.25 1828.75,802.5 1833.75,805 1838.75,802.5 1843.75,800 1848.75,797.5 1855,800 1860,801.25 1863.75,798.75 1868.75,805 1872.5,808.75 1876.37,805 1881.25,802 1886.75,801.25 1888.75,801.25 1892.28,802.5 1895.61,795 1898.75,792.5 1902.5,796.25 1905.5,802.5 1909.85,792.5 1913.6,781.25 1916.05,775 1919.44,772.5 1922.5,763.75 1926.25,772.5 1929.5,785 1932.5,792.5 1936.25,793.75 1940.14,795 1943.19,788.75 1946.25,785 1950,786.25 1954.03,783.75 1957.89,778.75 1961.25,775 1965,782.5 1968.75,787.5 1971.25,796.25 1975.35,791.25 1978,788.75 1981.25,797.5 1983.75,807.5 1987.5,811.25 1991.53,803.75 1996.25,802.5 2001.25,807.5 2006.25,811.25 2010.28,807.5 2012.5,805 2015.5,811.25 2019.07,813.75 2023.46,803.75 2026.25,798.75 2030,803.75 2032.5,807.5 2037.5,805 2041.25,806.25 2045,810 2048.75,813.75 2052.78,812.5 2056.47,806.25 2061.25,804.5 2066.25,807.5 2070.02,803 2075,802 2081.25,802.5 2086.62,797.5 2090.96,792.5 2094.85,782.5 2098.6,771.25 2100.78,765 2105,763.75 2108.75,770 2111.25,781.25 2114.5,790 2118.75,790 2122.5,792.5 2126.25,800 2130,800 2135,797.5 2138.75,802.5 2142.5,806.25 2146.25,807.5 2150,811.25 2155,813.75 2160,808.75 2165,810 2170,816.25 2175,813.75 2180,812.5 2185,815 2190,818.75 2195.28,813.75 2198.75,810 2203.75,810 2207.5,808.75 2212.5,811.25 2217.5,813.75 2222.5,811.25 2226.25,810 2230,816.25 2235,817.5 2238.75,813.75 2243.75,812.5 2248.75,811.25 2253.75,807.5 2257,815 2258.75,832.5"/>
<polyline transform="translate(0,0)" points="208,817.5 209.85,801.25 213.75,800 217.5,805 225.21,805 230.79,793.75 235,787.5 240,788.75 245,796.25 249.53,797.5 254.38,787.5 260,781.25 266.25,782.5 271.91,780 278.23,765 282.5,761.25 287.5,761.25 293.17,760 297.35,747.5 300.08,738 305,741.25 310,746.25 314.85,738.75 318.6,720 321.25,715 326.25,720 330.39,720 334.6,711.25 337.5,706.25 342.5,715 348.26,705 352.5,698 360,700 369.02,696.25 375.7,685 380,678 385.05,682.5 390.57,671.25 395.5,667.5 399.25,680 406.25,673.75 412.5,677.5 420,680 427.5,671.25 435,682 442.5,676.25 448.75,673.75 457.5,675 465,679.5 472.5,685.5 476.25,680.5 485,686.25 490.5,682.5 496.25,692.5 501.25,688.75 507,695 514.5,685 520,697.5 525,698.75 532.5,696.25 541.25,696.25 547.5,698.75 555,703.75 563.75,693.75 568.75,703.75 576.45,705 580.79,693.75 586.25,687.5 592.5,689.5 596.25,688 602.81,686.25 608,676.25 614.18,671.25 619.85,662.5 623.6,647.5 626.3,622.9 627.7,612.3 629.7,585.8 631,559.4 632.5,532.9 633.9,506.5 634.5,482 636.5,428.2 637.7,384 638.6,368 639.6,363.2 641.8,363.2 642.9,368 644.7,384 645.5,428.2 647.6,482 648.6,506.5 650.4,532.9 652.4,559.4 654.5,585.8 656.6,603.5 658.8,616.7 660,623.75 665.5,622.5 670,628.75 675,633.75 679.85,632.5 682.35,617.5 685.47,607.5 690,606.25 695.35,605 698.6,592.5 702.35,580 705,572.5 711.25,576.25 714.5,582.5 719.73,576.25 723.58,566.25 726.25,560 731.25,565 736.25,568.75 740.19,563.75 746.25,560 749.85,563.75 752.35,547.5 754.5,540 758.75,550 762.5,560 766.7,551.25 768.6,553.75 772.35,537.5 775.5,531.25 779.5,537.5 782.5,550 785.14,555 789.83,545 792.5,538.75 797.5,543.75 802.07,537.5 804.59,531.25 808.75,532 811.25,547.5 816.25,543.75 821.25,543.75 825,551.25 829.5,556.25 832.5,566.25 836.25,567.5 841.25,567.5 846.25,571.25 848.75,576.25 852.5,572.5 856.25,578.75 860,583.75 865.02,585 868,578.75 872.5,585 875.5,592.5 878.75,600 883.75,603.75 888.75,605 892.5,610 896.25,608.75 900,616.25 903.75,622.5 907.89,621.25 912.08,613.75 913.75,610 916.25,617.5 921.25,622.5 925,625 928.75,625 931.25,632.5 935,632.5 939.44,630 941.25,622.5 945,630 948,625 951.25,630 955,633.75 957.5,633.75 960,638.75 963.75,632.5 966.25,640 968.75,652.5 972,663.75 976.6,657.5 979.85,640 982.35,627.5 983.75,623.75 987,632.5 990,645 992.5,658.75 996.6,661.25 999.85,642.5 1002.35,615 1004.85,590 1006.87,583.75 1008.75,582.5 1012,590 1014.5,607.5 1017,616.25 1020,618.75 1022.5,632.5 1025,640 1030,643.75 1035,638.75 1038,647.5 1041.25,657.5 1045,671.25 1048,677.5 1051.33,678.75 1055.16,672.5 1058.75,672.5 1063.75,675 1068.75,678.75 1073.23,670 1076.37,666.25 1080.5,663.75 1083.75,671.25 1088.75,672.5 1092.5,675 1096.25,672.5 1099.03,675 1103.46,666.25 1106.98,660 1110,653.75 1112.5,660 1115,677.5 1117.5,690 1121.57,693.75 1125.6,682.5 1127.66,673.75 1130.5,677.5 1133.75,682.5 1137.5,677.5 1141.25,682.5 1145,691.25 1147.5,696.25 1151.53,690 1155,688.75 1158.75,688.75 1162.5,692.5 1166.94,687.5 1169.91,681.25 1172.5,680 1176.25,685 1178.75,692.5 1182.5,700 1185,706.25 1189.14,708.75 1193.58,697.5 1196.25,692.5 1200,696.25 1203.75,707.5 1208,712.5 1211.25,721.25 1213.75,723.75 1218.23,717.5 1221.57,711.25 1224.5,710 1228.75,716.25 1232.5,725 1235,730 1238.75,727.5 1242.5,730 1246.25,732.5 1250.1,732.5 1253,727.5 1255.5,740 1258.75,745 1263.11,743.75 1266.6,735 1268.13,727.5 1271.25,726.25 1275,735 1278.8,736.25 1283.35,730 1287.1,722.5 1290.5,716.25 1294.85,712.5 1296.6,697.5 1298.6,677.5 1300.6,655 1302.35,637.5 1304.1,620 1305.96,613.75 1306.75,612.5 1308.75,622.5 1310.5,632.5 1312.5,655 1314.25,680 1316.25,705 1318.75,722.5 1321.25,732.5 1325,735 1328.75,732.5 1331.25,743.75 1333.75,751.25 1337.98,748.75 1340.5,742.5 1343.75,745 1347,753.75 1349.5,762.5 1355,762.5 1360,765 1366.25,766.25 1371.25,770 1375,766.25 1382.5,767.5 1387.5,767 1392.5,767.5 1396.25,773.75 1400.16,773.75 1404.3,767.5 1406.25,765 1409.5,772.5 1412.5,781.25 1416.43,776.25 1421.25,773.75 1426.46,775 1430.33,766.25 1432.5,763.75 1436.25,767.5 1439.5,768.75 1442.5,775 1447.5,773.75 1451.33,772.5 1456.62,767.5 1460.73,762.5 1464.6,755 1468.46,748.75 1472.35,740 1474.85,725 1476.6,705 1479.1,690 1482.08,682.5 1484.25,678.75 1487,685 1490,697.5 1493,707.5 1495,717.5 1498.75,721.25 1502.72,722 1506.6,715 1508.6,700 1510.6,686.25 1512,678.75 1515,683.75 1517,700 1518.75,720 1521.25,737.5 1523.75,747.5 1527.5,750 1531.25,760 1535,766.25 1537.5,773.75 1541.25,775 1545,773.75 1548.28,776.25 1550.73,768.75 1552.5,768.75 1556.25,776.25 1560,783.75 1563.75,786.25 1568.75,787.5 1573.75,783.75 1578.75,785 1583.75,783.75 1587.5,781.25 1590,787.5 1592.5,793.75 1596.25,791.25 1601.25,795 1606.25,793.75 1610,791.25 1613.75,795 1618.75,792.5 1623.75,790 1628.75,791.25 1632.5,790 1637.5,793.75 1642.5,795 1647.5,793.75 1652.5,791.25 1657.5,790 1663.75,791.25 1670,790 1676.25,790 1681.25,786.25 1686.25,788.75 1692.5,791.25 1697.52,790 1702.5,785 1707.5,785 1712.6,783.75 1718.17,777.5 1721.82,770 1724.5,767.5 1728.52,766.25 1731.6,755 1734.1,745 1736.6,735 1738,731.25 1741.25,736.25 1745,743.75 1748,752.5 1750.5,762.5 1754.5,770 1757,781.25 1760,787.5 1763.75,788.75 1767.64,785 1770,783.75 1773.75,790 1777.5,791.25 1782.5,793.75 1786.25,796.25 1788.75,800 1792.5,797.5 1797.5,797.5 1801.25,801.25 1803.89,803.75 1808.19,796.25 1810,793.75 1814.5,796.25 1817.5,803.75 1820,805 1823.75,801.25 1828.75,802.5 1833.75,805 1838.75,802.5 1843.75,800 1848.75,797.5 1855,800 1860,801.25 1863.75,798.75 1868.75,805 1872.5,808.75 1876.37,805 1881.25,802 1886.75,801.25 1888.75,801.25 1892.28,802.5 1895.61,795 1898.75,792.5 1902.5,796.25 1905.5,802.5 1909.85,792.5 1913.6,781.25 1916.05,775 1919.44,772.5 1922.5,763.75 1926.25,772.5 1929.5,785 1932.5,792.5 1936.25,793.75 1940.14,795 1943.19,788.75 1946.25,785 1950,786.25 1954.03,783.75 1957.89,778.75 1961.25,775 1965,782.5 1968.75,787.5 1971.25,796.25 1975.35,791.25 1978,788.75 1981.25,797.5 1983.75,807.5 1987.5,811.25 1991.53,803.75 1996.25,802.5 2001.25,807.5 2006.25,811.25 2010.28,807.5 2012.5,805 2015.5,811.25 2019.07,813.75 2023.46,803.75 2026.25,798.75 2030,803.75 2032.5,807.5 2037.5,805 2041.25,806.25 2045,810 2048.75,813.75 2052.78,812.5 2056.47,806.25 2061.25,804.5 2066.25,807.5 2070.02,803 2075,802 2081.25,802.5 2086.62,797.5 2090.96,792.5 2094.85,782.5 2098.6,771.25 2100.78,765 2105,763.75 2108.75,770 2111.25,781.25 2114.5,790 2118.75,790 2122.5,792.5 2126.25,800 2130,800 2135,797.5 2138.75,802.5 2142.5,806.25 2146.25,807.5 2150,811.25 2155,813.75 2160,808.75 2165,810 2170,816.25 2175,813.75 2180,812.5 2185,815 2190,818.75 2195.28,813.75 2198.75,810 2203.75,810 2207.5,808.75 2212.5,811.25 2217.5,813.75 2222.5,811.25 2226.25,810 2230,816.25 2235,817.5 2238.75,813.75 2243.75,812.5 2248.75,811.25 2253.75,807.5 2257,815 2258.75,832.5"/>
<polyline transform="translate(0,1)" points="208,817.5 209.85,801.25 213.75,800 217.5,805 225.21,805 230.79,793.75 235,787.5 240,788.75 245,796.25 249.53,797.5 254.38,787.5 260,781.25 266.25,782.5 271.91,780 278.23,765 282.5,761.25 287.5,761.25 293.17,760 297.35,747.5 300.08,738 305,741.25 310,746.25 314.85,738.75 318.6,720 321.25,715 326.25,720 330.39,720 334.6,711.25 337.5,706.25 342.5,715 348.26,705 352.5,698 360,700 369.02,696.25 375.7,685 380,678 385.05,682.5 390.57,671.25 395.5,667.5 399.25,680 406.25,673.75 412.5,677.5 420,680 427.5,671.25 435,682 442.5,676.25 448.75,673.75 457.5,675 465,679.5 472.5,685.5 476.25,680.5 485,686.25 490.5,682.5 496.25,692.5 501.25,688.75 507,695 514.5,685 520,697.5 525,698.75 532.5,696.25 541.25,696.25 547.5,698.75 555,703.75 563.75,693.75 568.75,703.75 576.45,705 580.79,693.75 586.25,687.5 592.5,689.5 596.25,688 602.81,686.25 608,676.25 614.18,671.25 619.85,662.5 623.6,647.5 626.3,622.9 627.7,612.3 629.7,585.8 631,559.4 632.5,532.9 633.9,506.5 634.5,482 636.5,428.2 637.7,384 638.6,368 639.6,363.2 641.8,363.2 642.9,368 644.7,384 645.5,428.2 647.6,482 648.6,506.5 650.4,532.9 652.4,559.4 654.5,585.8 656.6,603.5 658.8,616.7 660,623.75 665.5,622.5 670,628.75 675,633.75 679.85,632.5 682.35,617.5 685.47,607.5 690,606.25 695.35,605 698.6,592.5 702.35,580 705,572.5 711.25,576.25 714.5,582.5 719.73,576.25 723.58,566.25 726.25,560 731.25,565 736.25,568.75 740.19,563.75 746.25,560 749.85,563.75 752.35,547.5 754.5,540 758.75,550 762.5,560 766.7,551.25 768.6,553.75 772.35,537.5 775.5,531.25 779.5,537.5 782.5,550 785.14,555 789.83,545 792.5,538.75 797.5,543.75 802.07,537.5 804.59,531.25 808.75,532 811.25,547.5 816.25,543.75 821.25,543.75 825,551.25 829.5,556.25 832.5,566.25 836.25,567.5 841.25,567.5 846.25,571.25 848.75,576.25 852.5,572.5 856.25,578.75 860,583.75 865.02,585 868,578.75 872.5,585 875.5,592.5 878.75,600 883.75,603.75 888.75,605 892.5,610 896.25,608.75 900,616.25 903.75,622.5 907.89,621.25 912.08,613.75 913.75,610 916.25,617.5 921.25,622.5 925,625 928.75,625 931.25,632.5 935,632.5 939.44,630 941.25,622.5 945,630 948,625 951.25,630 955,633.75 957.5,633.75 960,638.75 963.75,632.5 966.25,640 968.75,652.5 972,663.75 976.6,657.5 979.85,640 982.35,627.5 983.75,623.75 987,632.5 990,645 992.5,658.75 996.6,661.25 999.85,642.5 1002.35,615 1004.85,590 1006.87,583.75 1008.75,582.5 1012,590 1014.5,607.5 1017,616.25 1020,618.75 1022.5,632.5 1025,640 1030,643.75 1035,638.75 1038,647.5 1041.25,657.5 1045,671.25 1048,677.5 1051.33,678.75 1055.16,672.5 1058.75,672.5 1063.75,675 1068.75,678.75 1073.23,670 1076.37,666.25 1080.5,663.75 1083.75,671.25 1088.75,672.5 1092.5,675 1096.25,672.5 1099.03,675 1103.46,666.25 1106.98,660 1110,653.75 1112.5,660 1115,677.5 1117.5,690 1121.57,693.75 1125.6,682.5 1127.66,673.75 1130.5,677.5 1133.75,682.5 1137.5,677.5 1141.25,682.5 1145,691.25 1147.5,696.25 1151.53,690 1155,688.75 1158.75,688.75 1162.5,692.5 1166.94,687.5 1169.91,681.25 1172.5,680 1176.25,685 1178.75,692.5 1182.5,700 1185,706.25 1189.14,708.75 1193.58,697.5 1196.25,692.5 1200,696.25 1203.75,707.5 1208,712.5 1211.25,721.25 1213.75,723.75 1218.23,717.5 1221.57,711.25 1224.5,710 1228.75,716.25 1232.5,725 1235,730 1238.75,727.5 1242.5,730 1246.25,732.5 1250.1,732.5 1253,727.5 1255.5,740 1258.75,745 1263.11,743.75 1266.6,735 1268.13,727.5 1271.25,726.25 1275,735 1278.8,736.25 1283.35,730 1287.1,722.5 1290.5,716.25 1294.85,712.5 1296.6,697.5 1298.6,677.5 1300.6,655 1302.35,637.5 1304.1,620 1305.96,613.75 1306.75,612.5 1308.75,622.5 1310.5,632.5 1312.5,655 1314.25,680 1316.25,705 1318.75,722.5 1321.25,732.5 1325,735 1328.75,732.5 1331.25,743.75 1333.75,751.25 1337.98,748.75 1340.5,742.5 1343.75,745 1347,753.75 1349.5,762.5 1355,762.5 1360,765 1366.25,766.25 1371.25,770 1375,766.25 1382.5,767.5 1387.5,767 1392.5,767.5 1396.25,773.75 1400.16,773.75 1404.3,767.5 1406.25,765 1409.5,772.5 1412.5,781.25 1416.43,776.25 1421.25,773.75 1426.46,775 1430.33,766.25 1432.5,763.75 1436.25,767.5 1439.5,768.75 1442.5,775 1447.5,773.75 1451.33,772.5 1456.62,767.5 1460.73,762.5 1464.6,755 1468.46,748.75 1472.35,740 1474.85,725 1476.6,705 1479.1,690 1482.08,682.5 1484.25,678.75 1487,685 1490,697.5 1493,707.5 1495,717.5 1498.75,721.25 1502.72,722 1506.6,715 1508.6,700 1510.6,686.25 1512,678.75 1515,683.75 1517,700 1518.75,720 1521.25,737.5 1523.75,747.5 1527.5,750 1531.25,760 1535,766.25 1537.5,773.75 1541.25,775 1545,773.75 1548.28,776.25 1550.73,768.75 1552.5,768.75 1556.25,776.25 1560,783.75 1563.75,786.25 1568.75,787.5 1573.75,783.75 1578.75,785 1583.75,783.75 1587.5,781.25 1590,787.5 1592.5,793.75 1596.25,791.25 1601.25,795 1606.25,793.75 1610,791.25 1613.75,795 1618.75,792.5 1623.75,790 1628.75,791.25 1632.5,790 1637.5,793.75 1642.5,795 1647.5,793.75 1652.5,791.25 1657.5,790 1663.75,791.25 1670,790 1676.25,790 1681.25,786.25 1686.25,788.75 1692.5,791.25 1697.52,790 1702.5,785 1707.5,785 1712.6,783.75 1718.17,777.5 1721.82,770 1724.5,767.5 1728.52,766.25 1731.6,755 1734.1,745 1736.6,735 1738,731.25 1741.25,736.25 1745,743.75 1748,752.5 1750.5,762.5 1754.5,770 1757,781.25 1760,787.5 1763.75,788.75 1767.64,785 1770,783.75 1773.75,790 1777.5,791.25 1782.5,793.75 1786.25,796.25 1788.75,800 1792.5,797.5 1797.5,797.5 1801.25,801.25 1803.89,803.75 1808.19,796.25 1810,793.75 1814.5,796.25 1817.5,803.75 1820,805 1823.75,801.25 1828.75,802.5 1833.75,805 1838.75,802.5 1843.75,800 1848.75,797.5 1855,800 1860,801.25 1863.75,798.75 1868.75,805 1872.5,808.75 1876.37,805 1881.25,802 1886.75,801.25 1888.75,801.25 1892.28,802.5 1895.61,795 1898.75,792.5 1902.5,796.25 1905.5,802.5 1909.85,792.5 1913.6,781.25 1916.05,775 1919.44,772.5 1922.5,763.75 1926.25,772.5 1929.5,785 1932.5,792.5 1936.25,793.75 1940.14,795 1943.19,788.75 1946.25,785 1950,786.25 1954.03,783.75 1957.89,778.75 1961.25,775 1965,782.5 1968.75,787.5 1971.25,796.25 1975.35,791.25 1978,788.75 1981.25,797.5 1983.75,807.5 1987.5,811.25 1991.53,803.75 1996.25,802.5 2001.25,807.5 2006.25,811.25 2010.28,807.5 2012.5,805 2015.5,811.25 2019.07,813.75 2023.46,803.75 2026.25,798.75 2030,803.75 2032.5,807.5 2037.5,805 2041.25,806.25 2045,810 2048.75,813.75 2052.78,812.5 2056.47,806.25 2061.25,804.5 2066.25,807.5 2070.02,803 2075,802 2081.25,802.5 2086.62,797.5 2090.96,792.5 2094.85,782.5 2098.6,771.25 2100.78,765 2105,763.75 2108.75,770 2111.25,781.25 2114.5,790 2118.75,790 2122.5,792.5 2126.25,800 2130,800 2135,797.5 2138.75,802.5 2142.5,806.25 2146.25,807.5 2150,811.25 2155,813.75 2160,808.75 2165,810 2170,816.25 2175,813.75 2180,812.5 2185,815 2190,818.75 2195.28,813.75 2198.75,810 2203.75,810 2207.5,808.75 2212.5,811.25 2217.5,813.75 2222.5,811.25 2226.25,810 2230,816.25 2235,817.5 2238.75,813.75 2243.75,812.5 2248.75,811.25 2253.75,807.5 2257,815 2258.75,832.5"/>
</g>
<g fill="none" stroke="#ff3737" stroke-width="6" stroke-linejoin="round" stroke-linecap="butt" shape-rendering="crispEdges">
<polyline transform="translate(0,-1)" points="208,1093.75 211.25,1103.75 216.25,1106.25 222.5,1097.5 228.75,1103.75 235,1107.5 240.58,1097.5 246.25,1091.25 252.5,1097.5 260,1098.75 266.25,1100 272.5,1098.75 280,1107.5 286.34,1096.25 293.75,1097.5 297.5,1093.75 302.5,1100 308.38,1088.75 312.5,1081.25 316.25,1095 322.5,1097 330,1095 336.52,1091.25 341.86,1083.75 347.5,1074.5 351.25,1087.5 357.35,1082.5 361.1,1067.5 363.75,1063.75 368.75,1070 372.5,1078.75 378.75,1083.75 385,1080 391.25,1081.25 396.25,1088.75 402.35,1082.5 406.1,1065 408.91,1057.5 412.5,1058.75 416.25,1068.75 420.08,1072.5 425.27,1062.5 431.25,1061.25 436.25,1062.5 441.25,1068.75 446.25,1065 451.27,1071.25 456.95,1058.75 461.25,1055 466.25,1067.5 471.98,1057.5 477.95,1048.75 483.25,1042.5 487.5,1053.75 492.5,1063.75 496.92,1062.5 501.78,1050 506.25,1048.75 511.25,1062.5 516.25,1065.5 522.98,1065 527.35,1052.5 530.6,1035 533,1032 537.5,1045 542.5,1050 548.75,1046.25 555.27,1048 561.1,1035 562.5,1031.25 567.5,1037.5 574.25,1042.5 580.67,1036.25 584.11,1027.5 590,1025 596.25,1025.75 602.28,1030 604.85,1010 607.35,990 612.35,972.5 617.35,958.75 621.85,942.5 622.2,922.9 624.4,903.5 626.8,885.8 628.3,859.4 630.1,832.9 631.4,806.5 632.6,782 634.5,754.6 636.3,728.2 638.5,701.7 639.3,688 642.2,676 642.8,666 643.6,662.3 645.8,662.3 647.2,666 648.6,675.3 650.4,701.7 652.6,728.2 653.7,754.6 655.5,782 656.6,806.5 659.6,832.9 660.5,841.7 664.9,855 668.3,868.2 669.8,885.8 671.6,899 673.8,907.9 678.75,907.5 682.5,906.25 686.75,918.75 692.28,912.5 696.25,898.75 700,910 702.5,920 707.5,925 712.35,915 716.1,900 720.57,891.25 723.75,887.5 727.77,891.25 732.35,880 735,871.25 739.58,877.5 744.64,865 749.69,860 750.75,851.25 753.75,860 758.75,858.75 763.75,867.5 766.75,857.5 767.62,867.5 771.1,855 774.25,850 777.66,845 781.41,843.75 785,838.75 788.75,846.25 792.99,835 795.5,832.5 798,842.5 800.5,857.5 804.4,860 808.1,847.5 810.34,841.25 815,838.75 820,840 823.75,848.75 827.5,853.75 830.5,863.75 833,873.75 836.25,873.75 838,887.5 841.25,895 845.85,892.5 849.42,881.25 854.5,877.5 858,883.75 861.25,890 864.5,893.75 867,903.75 869.5,913.75 873.1,902.5 875.6,888.75 877.5,886.25 880,895 882,915 885,925 888.75,930 893,927.5 897.35,920 898.89,912.5 902.5,915 905.5,922.5 908.75,930 912.55,931.25 915,921.25 917.5,932.5 921.25,931.25 925,936.25 930,935 933.75,942.5 937,931.25 940,938.75 943.75,940 946.52,935 950,933.75 953,942.5 956.25,948.75 960.6,941.25 962.87,935 965,935 968,947.5 971.25,957.5 973.75,961.25 978.23,955 981.6,950 983.6,937.5 986.1,925 987.5,920 991.25,922.5 994.5,928.75 998.75,927.5 1004.1,925 1006.1,907.5 1008.6,895 1011.25,891.25 1013.75,897.5 1015.5,905 1019.1,897.5 1020,886.25 1023,895 1025,907.5 1027.5,920 1030.5,927.5 1034,918.75 1037,921.25 1039.5,933.75 1042.5,942.5 1045.5,952.5 1050,948.75 1053.75,950 1056.25,958.75 1058.75,962.5 1062.71,957.5 1067,955 1070,962.5 1073.75,971.25 1076.25,980 1078.75,987.5 1083.6,983.75 1086.1,972.5 1088.6,963.75 1091.25,958.75 1094.5,967.5 1097.5,972.5 1101.46,968.75 1104.44,960 1107.5,957.5 1110.5,965 1113.75,970 1117,975 1119.5,992.5 1123.77,990 1127.89,987.5 1131.25,981.25 1133.75,990 1137.64,988.75 1141.1,985 1143.6,975 1145,970 1148,976.25 1151.25,981.25 1153.75,990 1156.25,993.75 1160.16,987.5 1164.58,987.5 1166.25,976.25 1169.5,985 1172.5,987.5 1175.5,995 1178.75,1001.25 1183.6,995 1186.1,985 1188.68,978.75 1190.5,976.25 1193.75,995 1197.69,985 1200,985 1202,997.5 1205,1006.25 1208.75,1010 1212.6,1003.75 1215.5,1005 1217.5,1022.5 1220,1030 1224.85,1022.5 1227.35,1012.5 1229.1,998.75 1231.25,996.25 1234.5,1007.5 1237,1020 1240,1025 1243.75,1022.5 1247.5,1023.75 1250.5,1030 1253.63,1026.25 1256.45,1021.25 1260,1020 1263.75,1026.25 1267.5,1033.75 1272.35,1030 1275.6,1017.5 1278.52,1008.75 1280.5,1005 1283.75,1011.25 1288.35,1007.5 1292.35,997.5 1296.1,985 1299.85,975 1302.35,965 1305.6,956.25 1307.5,947.5 1311.25,952.5 1314.5,960 1316.25,977.5 1318.75,990 1321.25,996.25 1326.25,997.5 1327,993.75 1330,1002.5 1332.5,1015 1335.5,1027.5 1338,1040 1341.25,1050 1343.75,1055 1348.6,1047.5 1351.1,1037.5 1353,1033.75 1356.25,1040 1358.75,1050 1361.25,1060 1365,1061.25 1368.75,1065 1370.6,1068.75 1374.53,1061.25 1377.28,1057.5 1380,1055 1382.5,1061.25 1383.75,1075 1387.5,1073.75 1391.25,1072.5 1396.3,1073.75 1399.48,1067.5 1403,1062.5 1406.25,1067.5 1410,1070 1413.75,1066.25 1416.25,1076.25 1420.5,1077.5 1424.6,1066.25 1427.5,1063.75 1430.5,1070 1433,1077.5 1435.54,1080 1439.85,1073.75 1442.21,1066.25 1445.16,1061.25 1449.16,1060 1452.21,1053.75 1453.75,1050 1457,1058.75 1461.59,1060 1466.1,1050 1468.33,1042.5 1472.35,1038.75 1474.1,1027.5 1477.33,1023.75 1479.85,1015 1482.78,1010 1487.35,1007.5 1489.85,996.25 1493.1,991.25 1494.85,980 1497,980 1498.75,992.5 1500.5,1005 1503,1010 1506.6,1002.5 1509.1,988.75 1510.96,973.75 1513,978.75 1515.5,990 1518,1002.5 1521.25,1012.5 1523.75,1020 1526.25,1027.5 1528.75,1028.75 1532,1026.25 1533.75,1037.5 1535.5,1048.75 1538,1055 1541.25,1058.75 1544.68,1052.5 1547,1047.5 1548.75,1060 1551.25,1065 1555,1068.75 1558.75,1071.25 1561.25,1078.75 1566.25,1082.5 1569.71,1075 1572.73,1070 1576.25,1068 1580,1068.75 1583.75,1073.75 1586.25,1085 1588.75,1092.5 1592.5,1096.25 1596.3,1097.5 1600.5,1091.25 1603.75,1087.5 1607.5,1091.25 1611.25,1093.75 1613.75,1100 1617.5,1100 1622.5,1101.25 1626.1,1090 1629.1,1082.5 1631.29,1071.25 1633.75,1078.75 1636.25,1088.75 1639.5,1095 1642.5,1098.75 1645.75,1091.25 1648.75,1097.5 1652,1102.5 1656.53,1102.5 1659.5,1095 1662.5,1100 1665.5,1103.75 1668.95,1100 1672.5,1097.5 1677.5,1097 1682.96,1097.5 1685.69,1087.5 1688.75,1087.5 1692.5,1090 1696.25,1093.75 1700,1095 1705.05,1097.5 1708.6,1090 1711.1,1077.5 1712.84,1070 1715.5,1067.5 1718.75,1073.75 1721.25,1078.75 1725.85,1072.5 1729.48,1065 1732.85,1060 1735.5,1057.5 1740,1061.25 1743.75,1070 1747.08,1067.5 1750.73,1058.75 1754.36,1055 1756.75,1048.75 1760,1055 1763,1062.5 1767.5,1066.25 1771.25,1071.25 1773.75,1077.5 1777,1081.25 1781.25,1078.75 1783.75,1086.25 1787,1092.5 1790.61,1088.75 1794,1082.5 1797,1082 1799.5,1090 1802.5,1097.5 1805,1101.25 1809.44,1097.5 1812.69,1090 1815,1087.5 1817.5,1095 1820,1103.75 1823,1108.75 1827.35,1107.5 1828.96,1095 1831.25,1097.5 1835,1101.25 1839.5,1103.75 1843,1103.75 1846.25,1108.75 1850,1111.25 1855,1111.25 1857.5,1108.75 1861.25,1116.25 1865.28,1112.5 1868.75,1108.75 1872.5,1110 1875.5,1106.25 1880,1110 1883.75,1109.5 1888.75,1112.5 1892.5,1108.75 1897.5,1108.75 1902.18,1106.25 1906.67,1101.25 1911.49,1095 1915,1093 1920,1094.5 1925.24,1092.5 1929.14,1086.25 1932.91,1083.75 1935,1078.75 1938,1090 1943.75,1091.25 1948.75,1086.25 1952.5,1092.5 1957.5,1093.75 1962.55,1087.5 1967.5,1087 1970,1092.5 1972.5,1100 1977.5,1101.25 1981.25,1095 1986.25,1096.25 1989.5,1102.5 1992.5,1110 1996.25,1116.25 2001.43,1115 2005.47,1108.75 2010,1103.75 2013.75,1110 2017.5,1115 2022.5,1117.5 2027.5,1112.5 2032.5,1115 2036.25,1121.25 2040,1123.75 2045.45,1116.25 2050.22,1111.25 2054.5,1107.5 2058.75,1115 2062.55,1120 2067.1,1110 2070,1106.25 2073.75,1111.25 2077.5,1115 2082.35,1107.5 2085.94,1097.5 2089.5,1091.25 2093.75,1097.5 2097.5,1105 2100.91,1110 2104.85,1097.5 2108.1,1085 2110,1080.5 2113,1090 2115.5,1100 2118.75,1110 2122.69,1112.5 2125.73,1100 2129.2,1101.25 2132,1091.25 2135,1100 2138.75,1106.25 2143.75,1113.75 2148.77,1107.5 2153.75,1107.5 2158.75,1109.5 2162,1117.5 2165.5,1113.75 2170,1120 2175,1120 2180.19,1117.5 2185.4,1111.25 2189.5,1106.25 2192.5,1113.75 2196.25,1121.25 2200,1125 2203,1121.25 2207.5,1126.25 2212.5,1125 2217.73,1123.75 2221.6,1117.5 2223,1111.25 2226.25,1117.5 2230,1126.25 2233.75,1135 2238.23,1128.75 2241.64,1122.5 2245,1120 2248.75,1125 2253.75,1127.5 2257.97,1122.5 2260,1119.5"/>
<polyline transform="translate(0,0)" points="208,1093.75 211.25,1103.75 216.25,1106.25 222.5,1097.5 228.75,1103.75 235,1107.5 240.58,1097.5 246.25,1091.25 252.5,1097.5 260,1098.75 266.25,1100 272.5,1098.75 280,1107.5 286.34,1096.25 293.75,1097.5 297.5,1093.75 302.5,1100 308.38,1088.75 312.5,1081.25 316.25,1095 322.5,1097 330,1095 336.52,1091.25 341.86,1083.75 347.5,1074.5 351.25,1087.5 357.35,1082.5 361.1,1067.5 363.75,1063.75 368.75,1070 372.5,1078.75 378.75,1083.75 385,1080 391.25,1081.25 396.25,1088.75 402.35,1082.5 406.1,1065 408.91,1057.5 412.5,1058.75 416.25,1068.75 420.08,1072.5 425.27,1062.5 431.25,1061.25 436.25,1062.5 441.25,1068.75 446.25,1065 451.27,1071.25 456.95,1058.75 461.25,1055 466.25,1067.5 471.98,1057.5 477.95,1048.75 483.25,1042.5 487.5,1053.75 492.5,1063.75 496.92,1062.5 501.78,1050 506.25,1048.75 511.25,1062.5 516.25,1065.5 522.98,1065 527.35,1052.5 530.6,1035 533,1032 537.5,1045 542.5,1050 548.75,1046.25 555.27,1048 561.1,1035 562.5,1031.25 567.5,1037.5 574.25,1042.5 580.67,1036.25 584.11,1027.5 590,1025 596.25,1025.75 602.28,1030 604.85,1010 607.35,990 612.35,972.5 617.35,958.75 621.85,942.5 622.2,922.9 624.4,903.5 626.8,885.8 628.3,859.4 630.1,832.9 631.4,806.5 632.6,782 634.5,754.6 636.3,728.2 638.5,701.7 639.3,688 642.2,676 642.8,666 643.6,662.3 645.8,662.3 647.2,666 648.6,675.3 650.4,701.7 652.6,728.2 653.7,754.6 655.5,782 656.6,806.5 659.6,832.9 660.5,841.7 664.9,855 668.3,868.2 669.8,885.8 671.6,899 673.8,907.9 678.75,907.5 682.5,906.25 686.75,918.75 692.28,912.5 696.25,898.75 700,910 702.5,920 707.5,925 712.35,915 716.1,900 720.57,891.25 723.75,887.5 727.77,891.25 732.35,880 735,871.25 739.58,877.5 744.64,865 749.69,860 750.75,851.25 753.75,860 758.75,858.75 763.75,867.5 766.75,857.5 767.62,867.5 771.1,855 774.25,850 777.66,845 781.41,843.75 785,838.75 788.75,846.25 792.99,835 795.5,832.5 798,842.5 800.5,857.5 804.4,860 808.1,847.5 810.34,841.25 815,838.75 820,840 823.75,848.75 827.5,853.75 830.5,863.75 833,873.75 836.25,873.75 838,887.5 841.25,895 845.85,892.5 849.42,881.25 854.5,877.5 858,883.75 861.25,890 864.5,893.75 867,903.75 869.5,913.75 873.1,902.5 875.6,888.75 877.5,886.25 880,895 882,915 885,925 888.75,930 893,927.5 897.35,920 898.89,912.5 902.5,915 905.5,922.5 908.75,930 912.55,931.25 915,921.25 917.5,932.5 921.25,931.25 925,936.25 930,935 933.75,942.5 937,931.25 940,938.75 943.75,940 946.52,935 950,933.75 953,942.5 956.25,948.75 960.6,941.25 962.87,935 965,935 968,947.5 971.25,957.5 973.75,961.25 978.23,955 981.6,950 983.6,937.5 986.1,925 987.5,920 991.25,922.5 994.5,928.75 998.75,927.5 1004.1,925 1006.1,907.5 1008.6,895 1011.25,891.25 1013.75,897.5 1015.5,905 1019.1,897.5 1020,886.25 1023,895 1025,907.5 1027.5,920 1030.5,927.5 1034,918.75 1037,921.25 1039.5,933.75 1042.5,942.5 1045.5,952.5 1050,948.75 1053.75,950 1056.25,958.75 1058.75,962.5 1062.71,957.5 1067,955 1070,962.5 1073.75,971.25 1076.25,980 1078.75,987.5 1083.6,983.75 1086.1,972.5 1088.6,963.75 1091.25,958.75 1094.5,967.5 1097.5,972.5 1101.46,968.75 1104.44,960 1107.5,957.5 1110.5,965 1113.75,970 1117,975 1119.5,992.5 1123.77,990 1127.89,987.5 1131.25,981.25 1133.75,990 1137.64,988.75 1141.1,985 1143.6,975 1145,970 1148,976.25 1151.25,981.25 1153.75,990 1156.25,993.75 1160.16,987.5 1164.58,987.5 1166.25,976.25 1169.5,985 1172.5,987.5 1175.5,995 1178.75,1001.25 1183.6,995 1186.1,985 1188.68,978.75 1190.5,976.25 1193.75,995 1197.69,985 1200,985 1202,997.5 1205,1006.25 1208.75,1010 1212.6,1003.75 1215.5,1005 1217.5,1022.5 1220,1030 1224.85,1022.5 1227.35,1012.5 1229.1,998.75 1231.25,996.25 1234.5,1007.5 1237,1020 1240,1025 1243.75,1022.5 1247.5,1023.75 1250.5,1030 1253.63,1026.25 1256.45,1021.25 1260,1020 1263.75,1026.25 1267.5,1033.75 1272.35,1030 1275.6,1017.5 1278.52,1008.75 1280.5,1005 1283.75,1011.25 1288.35,1007.5 1292.35,997.5 1296.1,985 1299.85,975 1302.35,965 1305.6,956.25 1307.5,947.5 1311.25,952.5 1314.5,960 1316.25,977.5 1318.75,990 1321.25,996.25 1326.25,997.5 1327,993.75 1330,1002.5 1332.5,1015 1335.5,1027.5 1338,1040 1341.25,1050 1343.75,1055 1348.6,1047.5 1351.1,1037.5 1353,1033.75 1356.25,1040 1358.75,1050 1361.25,1060 1365,1061.25 1368.75,1065 1370.6,1068.75 1374.53,1061.25 1377.28,1057.5 1380,1055 1382.5,1061.25 1383.75,1075 1387.5,1073.75 1391.25,1072.5 1396.3,1073.75 1399.48,1067.5 1403,1062.5 1406.25,1067.5 1410,1070 1413.75,1066.25 1416.25,1076.25 1420.5,1077.5 1424.6,1066.25 1427.5,1063.75 1430.5,1070 1433,1077.5 1435.54,1080 1439.85,1073.75 1442.21,1066.25 1445.16,1061.25 1449.16,1060 1452.21,1053.75 1453.75,1050 1457,1058.75 1461.59,1060 1466.1,1050 1468.33,1042.5 1472.35,1038.75 1474.1,1027.5 1477.33,1023.75 1479.85,1015 1482.78,1010 1487.35,1007.5 1489.85,996.25 1493.1,991.25 1494.85,980 1497,980 1498.75,992.5 1500.5,1005 1503,1010 1506.6,1002.5 1509.1,988.75 1510.96,973.75 1513,978.75 1515.5,990 1518,1002.5 1521.25,1012.5 1523.75,1020 1526.25,1027.5 1528.75,1028.75 1532,1026.25 1533.75,1037.5 1535.5,1048.75 1538,1055 1541.25,1058.75 1544.68,1052.5 1547,1047.5 1548.75,1060 1551.25,1065 1555,1068.75 1558.75,1071.25 1561.25,1078.75 1566.25,1082.5 1569.71,1075 1572.73,1070 1576.25,1068 1580,1068.75 1583.75,1073.75 1586.25,1085 1588.75,1092.5 1592.5,1096.25 1596.3,1097.5 1600.5,1091.25 1603.75,1087.5 1607.5,1091.25 1611.25,1093.75 1613.75,1100 1617.5,1100 1622.5,1101.25 1626.1,1090 1629.1,1082.5 1631.29,1071.25 1633.75,1078.75 1636.25,1088.75 1639.5,1095 1642.5,1098.75 1645.75,1091.25 1648.75,1097.5 1652,1102.5 1656.53,1102.5 1659.5,1095 1662.5,1100 1665.5,1103.75 1668.95,1100 1672.5,1097.5 1677.5,1097 1682.96,1097.5 1685.69,1087.5 1688.75,1087.5 1692.5,1090 1696.25,1093.75 1700,1095 1705.05,1097.5 1708.6,1090 1711.1,1077.5 1712.84,1070 1715.5,1067.5 1718.75,1073.75 1721.25,1078.75 1725.85,1072.5 1729.48,1065 1732.85,1060 1735.5,1057.5 1740,1061.25 1743.75,1070 1747.08,1067.5 1750.73,1058.75 1754.36,1055 1756.75,1048.75 1760,1055 1763,1062.5 1767.5,1066.25 1771.25,1071.25 1773.75,1077.5 1777,1081.25 1781.25,1078.75 1783.75,1086.25 1787,1092.5 1790.61,1088.75 1794,1082.5 1797,1082 1799.5,1090 1802.5,1097.5 1805,1101.25 1809.44,1097.5 1812.69,1090 1815,1087.5 1817.5,1095 1820,1103.75 1823,1108.75 1827.35,1107.5 1828.96,1095 1831.25,1097.5 1835,1101.25 1839.5,1103.75 1843,1103.75 1846.25,1108.75 1850,1111.25 1855,1111.25 1857.5,1108.75 1861.25,1116.25 1865.28,1112.5 1868.75,1108.75 1872.5,1110 1875.5,1106.25 1880,1110 1883.75,1109.5 1888.75,1112.5 1892.5,1108.75 1897.5,1108.75 1902.18,1106.25 1906.67,1101.25 1911.49,1095 1915,1093 1920,1094.5 1925.24,1092.5 1929.14,1086.25 1932.91,1083.75 1935,1078.75 1938,1090 1943.75,1091.25 1948.75,1086.25 1952.5,1092.5 1957.5,1093.75 1962.55,1087.5 1967.5,1087 1970,1092.5 1972.5,1100 1977.5,1101.25 1981.25,1095 1986.25,1096.25 1989.5,1102.5 1992.5,1110 1996.25,1116.25 2001.43,1115 2005.47,1108.75 2010,1103.75 2013.75,1110 2017.5,1115 2022.5,1117.5 2027.5,1112.5 2032.5,1115 2036.25,1121.25 2040,1123.75 2045.45,1116.25 2050.22,1111.25 2054.5,1107.5 2058.75,1115 2062.55,1120 2067.1,1110 2070,1106.25 2073.75,1111.25 2077.5,1115 2082.35,1107.5 2085.94,1097.5 2089.5,1091.25 2093.75,1097.5 2097.5,1105 2100.91,1110 2104.85,1097.5 2108.1,1085 2110,1080.5 2113,1090 2115.5,1100 2118.75,1110 2122.69,1112.5 2125.73,1100 2129.2,1101.25 2132,1091.25 2135,1100 2138.75,1106.25 2143.75,1113.75 2148.77,1107.5 2153.75,1107.5 2158.75,1109.5 2162,1117.5 2165.5,1113.75 2170,1120 2175,1120 2180.19,1117.5 2185.4,1111.25 2189.5,1106.25 2192.5,1113.75 2196.25,1121.25 2200,1125 2203,1121.25 2207.5,1126.25 2212.5,1125 2217.73,1123.75 2221.6,1117.5 2223,1111.25 2226.25,1117.5 2230,1126.25 2233.75,1135 2238.23,1128.75 2241.64,1122.5 2245,1120 2248.75,1125 2253.75,1127.5 2257.97,1122.5 2260,1119.5"/>
<polyline transform="translate(0,1)" points="208,1093.75 211.25,1103.75 216.25,1106.25 222.5,1097.5 228.75,1103.75 235,1107.5 240.58,1097.5 246.25,1091.25 252.5,1097.5 260,1098.75 266.25,1100 272.5,1098.75 280,1107.5 286.34,1096.25 293.75,1097.5 297.5,1093.75 302.5,1100 308.38,1088.75 312.5,1081.25 316.25,1095 322.5,1097 330,1095 336.52,1091.25 341.86,1083.75 347.5,1074.5 351.25,1087.5 357.35,1082.5 361.1,1067.5 363.75,1063.75 368.75,1070 372.5,1078.75 378.75,1083.75 385,1080 391.25,1081.25 396.25,1088.75 402.35,1082.5 406.1,1065 408.91,1057.5 412.5,1058.75 416.25,1068.75 420.08,1072.5 425.27,1062.5 431.25,1061.25 436.25,1062.5 441.25,1068.75 446.25,1065 451.27,1071.25 456.95,1058.75 461.25,1055 466.25,1067.5 471.98,1057.5 477.95,1048.75 483.25,1042.5 487.5,1053.75 492.5,1063.75 496.92,1062.5 501.78,1050 506.25,1048.75 511.25,1062.5 516.25,1065.5 522.98,1065 527.35,1052.5 530.6,1035 533,1032 537.5,1045 542.5,1050 548.75,1046.25 555.27,1048 561.1,1035 562.5,1031.25 567.5,1037.5 574.25,1042.5 580.67,1036.25 584.11,1027.5 590,1025 596.25,1025.75 602.28,1030 604.85,1010 607.35,990 612.35,972.5 617.35,958.75 621.85,942.5 622.2,922.9 624.4,903.5 626.8,885.8 628.3,859.4 630.1,832.9 631.4,806.5 632.6,782 634.5,754.6 636.3,728.2 638.5,701.7 639.3,688 642.2,676 642.8,666 643.6,662.3 645.8,662.3 647.2,666 648.6,675.3 650.4,701.7 652.6,728.2 653.7,754.6 655.5,782 656.6,806.5 659.6,832.9 660.5,841.7 664.9,855 668.3,868.2 669.8,885.8 671.6,899 673.8,907.9 678.75,907.5 682.5,906.25 686.75,918.75 692.28,912.5 696.25,898.75 700,910 702.5,920 707.5,925 712.35,915 716.1,900 720.57,891.25 723.75,887.5 727.77,891.25 732.35,880 735,871.25 739.58,877.5 744.64,865 749.69,860 750.75,851.25 753.75,860 758.75,858.75 763.75,867.5 766.75,857.5 767.62,867.5 771.1,855 774.25,850 777.66,845 781.41,843.75 785,838.75 788.75,846.25 792.99,835 795.5,832.5 798,842.5 800.5,857.5 804.4,860 808.1,847.5 810.34,841.25 815,838.75 820,840 823.75,848.75 827.5,853.75 830.5,863.75 833,873.75 836.25,873.75 838,887.5 841.25,895 845.85,892.5 849.42,881.25 854.5,877.5 858,883.75 861.25,890 864.5,893.75 867,903.75 869.5,913.75 873.1,902.5 875.6,888.75 877.5,886.25 880,895 882,915 885,925 888.75,930 893,927.5 897.35,920 898.89,912.5 902.5,915 905.5,922.5 908.75,930 912.55,931.25 915,921.25 917.5,932.5 921.25,931.25 925,936.25 930,935 933.75,942.5 937,931.25 940,938.75 943.75,940 946.52,935 950,933.75 953,942.5 956.25,948.75 960.6,941.25 962.87,935 965,935 968,947.5 971.25,957.5 973.75,961.25 978.23,955 981.6,950 983.6,937.5 986.1,925 987.5,920 991.25,922.5 994.5,928.75 998.75,927.5 1004.1,925 1006.1,907.5 1008.6,895 1011.25,891.25 1013.75,897.5 1015.5,905 1019.1,897.5 1020,886.25 1023,895 1025,907.5 1027.5,920 1030.5,927.5 1034,918.75 1037,921.25 1039.5,933.75 1042.5,942.5 1045.5,952.5 1050,948.75 1053.75,950 1056.25,958.75 1058.75,962.5 1062.71,957.5 1067,955 1070,962.5 1073.75,971.25 1076.25,980 1078.75,987.5 1083.6,983.75 1086.1,972.5 1088.6,963.75 1091.25,958.75 1094.5,967.5 1097.5,972.5 1101.46,968.75 1104.44,960 1107.5,957.5 1110.5,965 1113.75,970 1117,975 1119.5,992.5 1123.77,990 1127.89,987.5 1131.25,981.25 1133.75,990 1137.64,988.75 1141.1,985 1143.6,975 1145,970 1148,976.25 1151.25,981.25 1153.75,990 1156.25,993.75 1160.16,987.5 1164.58,987.5 1166.25,976.25 1169.5,985 1172.5,987.5 1175.5,995 1178.75,1001.25 1183.6,995 1186.1,985 1188.68,978.75 1190.5,976.25 1193.75,995 1197.69,985 1200,985 1202,997.5 1205,1006.25 1208.75,1010 1212.6,1003.75 1215.5,1005 1217.5,1022.5 1220,1030 1224.85,1022.5 1227.35,1012.5 1229.1,998.75 1231.25,996.25 1234.5,1007.5 1237,1020 1240,1025 1243.75,1022.5 1247.5,1023.75 1250.5,1030 1253.63,1026.25 1256.45,1021.25 1260,1020 1263.75,1026.25 1267.5,1033.75 1272.35,1030 1275.6,1017.5 1278.52,1008.75 1280.5,1005 1283.75,1011.25 1288.35,1007.5 1292.35,997.5 1296.1,985 1299.85,975 1302.35,965 1305.6,956.25 1307.5,947.5 1311.25,952.5 1314.5,960 1316.25,977.5 1318.75,990 1321.25,996.25 1326.25,997.5 1327,993.75 1330,1002.5 1332.5,1015 1335.5,1027.5 1338,1040 1341.25,1050 1343.75,1055 1348.6,1047.5 1351.1,1037.5 1353,1033.75 1356.25,1040 1358.75,1050 1361.25,1060 1365,1061.25 1368.75,1065 1370.6,1068.75 1374.53,1061.25 1377.28,1057.5 1380,1055 1382.5,1061.25 1383.75,1075 1387.5,1073.75 1391.25,1072.5 1396.3,1073.75 1399.48,1067.5 1403,1062.5 1406.25,1067.5 1410,1070 1413.75,1066.25 1416.25,1076.25 1420.5,1077.5 1424.6,1066.25 1427.5,1063.75 1430.5,1070 1433,1077.5 1435.54,1080 1439.85,1073.75 1442.21,1066.25 1445.16,1061.25 1449.16,1060 1452.21,1053.75 1453.75,1050 1457,1058.75 1461.59,1060 1466.1,1050 1468.33,1042.5 1472.35,1038.75 1474.1,1027.5 1477.33,1023.75 1479.85,1015 1482.78,1010 1487.35,1007.5 1489.85,996.25 1493.1,991.25 1494.85,980 1497,980 1498.75,992.5 1500.5,1005 1503,1010 1506.6,1002.5 1509.1,988.75 1510.96,973.75 1513,978.75 1515.5,990 1518,1002.5 1521.25,1012.5 1523.75,1020 1526.25,1027.5 1528.75,1028.75 1532,1026.25 1533.75,1037.5 1535.5,1048.75 1538,1055 1541.25,1058.75 1544.68,1052.5 1547,1047.5 1548.75,1060 1551.25,1065 1555,1068.75 1558.75,1071.25 1561.25,1078.75 1566.25,1082.5 1569.71,1075 1572.73,1070 1576.25,1068 1580,1068.75 1583.75,1073.75 1586.25,1085 1588.75,1092.5 1592.5,1096.25 1596.3,1097.5 1600.5,1091.25 1603.75,1087.5 1607.5,1091.25 1611.25,1093.75 1613.75,1100 1617.5,1100 1622.5,1101.25 1626.1,1090 1629.1,1082.5 1631.29,1071.25 1633.75,1078.75 1636.25,1088.75 1639.5,1095 1642.5,1098.75 1645.75,1091.25 1648.75,1097.5 1652,1102.5 1656.53,1102.5 1659.5,1095 1662.5,1100 1665.5,1103.75 1668.95,1100 1672.5,1097.5 1677.5,1097 1682.96,1097.5 1685.69,1087.5 1688.75,1087.5 1692.5,1090 1696.25,1093.75 1700,1095 1705.05,1097.5 1708.6,1090 1711.1,1077.5 1712.84,1070 1715.5,1067.5 1718.75,1073.75 1721.25,1078.75 1725.85,1072.5 1729.48,1065 1732.85,1060 1735.5,1057.5 1740,1061.25 1743.75,1070 1747.08,1067.5 1750.73,1058.75 1754.36,1055 1756.75,1048.75 1760,1055 1763,1062.5 1767.5,1066.25 1771.25,1071.25 1773.75,1077.5 1777,1081.25 1781.25,1078.75 1783.75,1086.25 1787,1092.5 1790.61,1088.75 1794,1082.5 1797,1082 1799.5,1090 1802.5,1097.5 1805,1101.25 1809.44,1097.5 1812.69,1090 1815,1087.5 1817.5,1095 1820,1103.75 1823,1108.75 1827.35,1107.5 1828.96,1095 1831.25,1097.5 1835,1101.25 1839.5,1103.75 1843,1103.75 1846.25,1108.75 1850,1111.25 1855,1111.25 1857.5,1108.75 1861.25,1116.25 1865.28,1112.5 1868.75,1108.75 1872.5,1110 1875.5,1106.25 1880,1110 1883.75,1109.5 1888.75,1112.5 1892.5,1108.75 1897.5,1108.75 1902.18,1106.25 1906.67,1101.25 1911.49,1095 1915,1093 1920,1094.5 1925.24,1092.5 1929.14,1086.25 1932.91,1083.75 1935,1078.75 1938,1090 1943.75,1091.25 1948.75,1086.25 1952.5,1092.5 1957.5,1093.75 1962.55,1087.5 1967.5,1087 1970,1092.5 1972.5,1100 1977.5,1101.25 1981.25,1095 1986.25,1096.25 1989.5,1102.5 1992.5,1110 1996.25,1116.25 2001.43,1115 2005.47,1108.75 2010,1103.75 2013.75,1110 2017.5,1115 2022.5,1117.5 2027.5,1112.5 2032.5,1115 2036.25,1121.25 2040,1123.75 2045.45,1116.25 2050.22,1111.25 2054.5,1107.5 2058.75,1115 2062.55,1120 2067.1,1110 2070,1106.25 2073.75,1111.25 2077.5,1115 2082.35,1107.5 2085.94,1097.5 2089.5,1091.25 2093.75,1097.5 2097.5,1105 2100.91,1110 2104.85,1097.5 2108.1,1085 2110,1080.5 2113,1090 2115.5,1100 2118.75,1110 2122.69,1112.5 2125.73,1100 2129.2,1101.25 2132,1091.25 2135,1100 2138.75,1106.25 2143.75,1113.75 2148.77,1107.5 2153.75,1107.5 2158.75,1109.5 2162,1117.5 2165.5,1113.75 2170,1120 2175,1120 2180.19,1117.5 2185.4,1111.25 2189.5,1106.25 2192.5,1113.75 2196.25,1121.25 2200,1125 2203,1121.25 2207.5,1126.25 2212.5,1125 2217.73,1123.75 2221.6,1117.5 2223,1111.25 2226.25,1117.5 2230,1126.25 2233.75,1135 2238.23,1128.75 2241.64,1122.5 2245,1120 2248.75,1125 2253.75,1127.5 2257.97,1122.5 2260,1119.5"/>
</g>
<g fill="none" stroke="#000000" stroke-width="6" stroke-linejoin="round" stroke-linecap="butt" shape-rendering="crispEdges">
<polyline transform="translate(0,-1.45)" points="208,1357 210.4,1356.6 212.8,1356.21 215.2,1358.11 217.6,1356.35 220,1358 222.5,1358.41 225,1358.11 227.5,1357.35 230,1359.17 232.5,1357.86 235,1359.49 237.5,1360 240,1358.34 242.5,1358.21 245,1359.14 247.5,1360.31 250,1357.72 252.5,1357.86 255,1359.03 257.5,1359.92 260,1358.46 262.5,1358 265,1357.73 267.5,1359.79 270,1356.71 272.5,1359.55 275,1357.7 277.5,1357.29 280,1357.28 282.5,1358.02 285,1358.75 287.5,1359.7 290,1357.41 292.5,1358.65 295,1358.72 297.5,1357.69 300,1358 302.5,1356.66 305,1355 308.75,1358 311.41,1356.61 314.06,1356.69 316.72,1357.28 319.38,1358.99 322.03,1358.22 324.69,1357.93 327.34,1358.95 330,1358.75 332.5,1358.59 335,1358.07 337.5,1359.75 340,1359.43 342.5,1357.88 345,1359 347.5,1358.84 350,1360.03 352.5,1359.53 355,1358.03 357.5,1360.38 360,1357.45 362.5,1358.75 365,1358.36 367.5,1359.4 370,1357.23 372.5,1358.26 375,1356.62 377.5,1358.64 380,1358.85 382.5,1358.09 385,1359 387.5,1356.98 390,1357.5 392.5,1358.08 395,1357.65 397.5,1357.52 400,1357.02 402.5,1358.24 405,1357 407.5,1358.93 410,1357.75 412.5,1358.81 415,1357.17 417.5,1359.77 420,1359.5 422.5,1360.15 425,1361.47 427.5,1361.03 430,1359.35 432.5,1359.84 435,1360.95 437.5,1358.9 440,1360.54 442.5,1359.68 445,1359.66 447.5,1359.6 450,1361.25 452.5,1362.09 455,1359.84 457.5,1360.17 460,1360.58 462.5,1362.14 465,1359.37 467.5,1360.55 470,1360.82 472.5,1361.88 475,1360.5 477.5,1361.41 480,1361.39 482.5,1359.22 485,1359.51 487.5,1359.14 490,1360.76 492.5,1360.83 495,1357.91 497.5,1357.82 500,1358.75 502.5,1357.84 505,1357.84 507.5,1358.7 510,1359.05 512.5,1357.94 515,1357.06 517.5,1358.47 520,1358.31 522.5,1358.98 525,1358.75 527.5,1360.22 530,1359.25 532.5,1358.58 535,1358.85 537.5,1358.97 540,1356.78 542.5,1359.58 545,1359.1 547.5,1359.35 550,1358 552.5,1358.96 555,1357.53 557.5,1357.51 560,1356.45 562.5,1358.21 565,1356.21 567.5,1356.18 570,1356.61 572.5,1356.4 575,1357.5 577.5,1356.83 580,1355.73 582.5,1355.43 585,1355.81 587.5,1355.52 590,1356.29 592.5,1355.01 595,1357.77 597.5,1356.76 600,1356.25 602.5,1355.12 605,1355.53 607.5,1355.92 610,1356.5 612.92,1356.14 615.85,1355.42 618.78,1357.99 621.7,1356.9 624.35,1357.03 627,1353.8 629.65,1351.48 632.3,1349.4 636.7,1345 640.2,1336.1 642.9,1322.9 645.1,1306 646.2,1290 646.9,1274.6 648.2,1257 649.1,1230.5 649.9,1195.3 651.1,1160 652,1108.2 653,1064.1 654.1,1020 655,955 655.9,909 656.55,896.3 657.55,896.3 658.2,909 659,927.6 659.85,941.7 660.9,1020 661.4,1064.1 662.5,1108.2 663.2,1160 664.5,1195.3 665.8,1230.5 666.7,1257 667.8,1274.6 668.9,1292 670.4,1309.7 671.8,1322.9 674.6,1336.1 678.2,1345 680.85,1347.15 683.5,1349.4 687,1349.74 690.5,1352.9 694.05,1352.45 697.6,1354.7 700.45,1352.06 703.3,1350.5 707.3,1355.5 712.35,1342.5 715.6,1322.5 718.1,1297.5 719.5,1286.25 722.5,1305 725,1327.5 728,1347.5 731.25,1357.5 734.17,1357.37 737.08,1359.95 740,1359.5 742.5,1358.47 745,1358.13 747.5,1361.41 750,1360 752.79,1360.1 755.58,1358.8 758.38,1360.15 761.17,1358.39 763.96,1360.1 766.75,1360 769.62,1361 772.5,1358.75 775,1359.74 777.5,1358.92 780,1357.19 782.5,1357.3 785,1357.5 787.5,1356.87 790,1359.42 792.5,1359.11 795,1360.45 797.5,1360 800,1359.32 802.5,1358.86 805,1360.76 807.5,1361.25 810,1359.5 812.5,1360.87 815,1360.87 817.5,1361.08 820,1360.98 822.5,1359.4 825,1360.5 827.5,1360.14 830,1359.18 832.5,1357.65 835,1357.23 837.5,1357.67 840,1358 842.5,1357.72 845,1359.74 847.5,1361.18 850,1359.99 852.5,1362.19 855,1361.25 857.5,1362.91 860,1362.8 862.5,1360.79 865,1360.3 867.5,1360.32 870,1361.25 872.92,1361.05 875.83,1361.91 878.75,1363.75 881.56,1363.23 884.38,1363.24 887.19,1362.09 890,1360 892.5,1360.26 895,1361.19 897.5,1362.02 900,1359.92 902.5,1362.21 905,1362 907.5,1363.27 910,1362.71 912.5,1362.48 915,1361.43 917.5,1360.28 920,1361.25 922.5,1362.23 925,1360.68 927.5,1362.27 930,1362.85 932.5,1360.9 935,1361.25 937.5,1361.23 940,1363.39 942.5,1362.95 945,1362.5 947.5,1360.88 950,1360.23 952.5,1359.81 955,1360.5 957.55,1361.29 960.11,1360.38 962.66,1358.75 968.6,1350 971.6,1335 972.5,1327.5 974.5,1335 977,1350 980,1356.25 983.12,1356.3 986.25,1358.75 989.3,1357.36 992.35,1353.75 995.6,1340 998.75,1336.25 1002.5,1341.25 1006.25,1343.75 1010,1348.75 1014.85,1340 1017.35,1327.5 1019.85,1305 1022.35,1287.5 1023.75,1283.75 1026.25,1287.5 1028,1305 1030,1330 1033,1335 1036.25,1345 1039.64,1347.5 1043.36,1340 1046.25,1335 1049.5,1345 1052.5,1351.25 1056.25,1358.75 1060.1,1358.75 1063,1353.75 1066.25,1358.75 1068.75,1361.63 1071.25,1361.25 1074.38,1362.66 1077.5,1363 1080,1362.99 1082.5,1364.17 1085,1364.5 1087.5,1363.37 1090,1363.1 1092.5,1366.48 1095,1365 1097.5,1365.38 1100,1364.84 1102.5,1366.1 1105,1364.5 1107.5,1363.77 1110,1364.76 1112.5,1364.11 1115,1362.5 1117.98,1359.02 1120.96,1357.5 1123.6,1347.5 1125,1346.25 1127.5,1355 1131.25,1362.5 1134.17,1362.49 1137.08,1363.46 1140,1365 1142.5,1364.12 1145,1365.29 1147.5,1364.18 1150,1365 1152.5,1364.32 1155,1362.95 1157.5,1365.19 1160,1362.9 1162.5,1363 1165,1363.36 1167.5,1364.28 1170,1365.87 1172.5,1365 1175,1364.48 1177.5,1365.92 1180,1364.26 1182.5,1364.11 1185,1363.75 1187.5,1364.02 1190,1362.49 1192.5,1364.11 1195,1364.5 1197.5,1362.8 1200,1361.56 1202.5,1363.64 1205,1362 1207.5,1361.64 1210,1363.41 1212.5,1365.02 1215,1365 1217.5,1365.09 1220,1364.21 1222.5,1364.76 1225,1364.79 1227.5,1364.5 1230,1365.32 1232.5,1362.86 1235,1364.26 1237.5,1363.04 1240,1363.75 1242.5,1363.14 1245,1364.98 1247.5,1364.23 1250,1364.56 1252.5,1364.5 1255,1365.48 1257.5,1366.1 1260,1364.61 1262.5,1365.28 1265,1365 1267.5,1364.71 1270,1364.42 1272.5,1364.72 1275,1363.75 1277.5,1363.59 1280,1363.86 1282.5,1363.68 1285,1363.75 1287.5,1364.31 1290,1362.55 1292.5,1362.22 1295,1360 1297.53,1360.67 1300.06,1357.52 1302.59,1357.5 1305.01,1355.2 1307.43,1354.01 1309.85,1350 1313.1,1335 1315.6,1310 1318.1,1285 1320.6,1262.5 1322.72,1261 1324.5,1254.25 1326.25,1261 1328,1285 1330,1315 1332,1335 1334.5,1347.5 1337.5,1356.25 1340,1359.28 1342.5,1360 1345.62,1360.27 1348.75,1363 1351.67,1362.38 1354.58,1364.14 1357.5,1365 1360,1363.45 1362.5,1363.92 1365,1363.25 1367.5,1365.18 1370,1364.5 1372.5,1365.67 1375,1366.25 1377.5,1363.93 1380,1366.03 1382.5,1365.5 1385,1365.84 1387.5,1363.89 1390,1366.2 1392.5,1366.29 1395,1364.5 1397.5,1363.65 1400,1366.24 1402.5,1364.45 1405,1364.86 1407.5,1365 1410,1366.57 1412.5,1365.93 1415,1363.55 1417.5,1364.37 1420,1364.5 1422.5,1364.4 1425,1363.65 1427.5,1363.02 1430,1363.28 1432.5,1363.75 1435,1364.76 1437.5,1362.62 1440,1364.68 1442.5,1364.55 1445,1365 1447.5,1363.11 1450,1363.93 1452.5,1364.67 1455,1364.04 1457.5,1363.75 1460.62,1362.89 1463.75,1365 1466.88,1365.4 1470,1362.5 1473.15,1362.23 1476.3,1360 1479.16,1359.1 1482.02,1355 1486.1,1345 1489.1,1332.5 1491.1,1320 1492.35,1308.75 1495.46,1302.5 1497.5,1296.25 1500,1303.75 1503.75,1308.75 1507.5,1311.25 1510.5,1322.5 1513,1337.5 1515.5,1346.25 1519.85,1340 1523.1,1325 1526.1,1310 1529.1,1297.5 1531.25,1296.25 1533,1307.5 1535,1322.5 1537.5,1337.5 1540,1351.25 1543.75,1356.25 1547.5,1361.25 1550,1361.16 1552.5,1363.75 1555,1362.7 1557.5,1361.68 1560,1363 1562.5,1363.78 1565,1361.89 1567.5,1362.5 1570.14,1359.37 1572.78,1358.75 1576.25,1353.75 1578.75,1360 1582.5,1363.75 1585,1363.8 1587.5,1365.77 1590,1365.77 1592.5,1365 1595,1363.93 1597.5,1363.31 1600,1365.68 1602.5,1364.24 1605,1363.75 1607.5,1364.72 1610,1362.94 1612.5,1363.12 1615,1365.56 1617.5,1364.95 1620,1365.5 1622.5,1363.96 1625,1366.82 1627.5,1365.71 1630,1366.19 1632.5,1363.67 1635,1365 1637.5,1366.63 1640,1364.36 1642.5,1366.25 1645,1367.17 1647.5,1365.47 1650,1364.77 1652.5,1365 1655,1365.1 1657.5,1366.28 1660,1363.96 1662.5,1363.41 1665,1364.67 1667.5,1364.5 1670,1363.49 1672.5,1362.92 1675,1362.97 1677.5,1362.47 1680,1362.86 1682.5,1363.75 1685,1363.46 1687.5,1363.79 1690,1365.68 1692.5,1364.44 1695,1365.5 1697.5,1365.3 1700,1364 1702.5,1364.38 1705,1363.06 1707.5,1364.5 1710,1363.15 1712.5,1361.85 1715,1363.79 1717.5,1362.5 1720.03,1361.42 1722.56,1358.94 1725.09,1358.75 1728.34,1355.54 1731.6,1352.5 1736.25,1346.25 1739.47,1347.73 1742.69,1346.25 1747.35,1337.5 1749.85,1320 1751.6,1307.5 1752.5,1303.75 1755.5,1312.5 1758,1325 1760,1340 1762.5,1352.5 1766.25,1358.75 1769.38,1359.29 1772.5,1362.5 1775,1364 1777.5,1363.1 1780,1363.75 1782.5,1363.32 1785,1364.05 1787.5,1362.5 1790.62,1360.26 1793.75,1358.75 1796.25,1363.75 1800,1367.5 1802.5,1366.02 1805,1364.5 1807.5,1364.95 1810,1365.77 1812.5,1363.4 1815,1363.75 1817.5,1365.23 1820,1365.15 1822.5,1365.26 1825,1364.83 1827.5,1365.5 1830,1364.88 1832.5,1363.78 1835,1363.94 1837.5,1363.64 1840,1365 1842.5,1365.72 1845,1363.97 1847.5,1363.56 1850,1363.19 1852.5,1364.5 1855,1365.76 1857.5,1365.96 1860,1365.38 1862.5,1364.16 1865,1365 1867.5,1364.12 1870,1364.3 1872.5,1364.86 1875,1363.84 1877.5,1365 1880.58,1364.65 1883.67,1363.86 1886.75,1364.5 1889.44,1366.07 1892.12,1366.11 1894.81,1364.66 1897.5,1364.5 1901.25,1361.25 1903.75,1362.01 1906.25,1364.5 1909.38,1364.46 1912.5,1361.25 1915.02,1359.77 1917.55,1359.1 1920.07,1358.75 1922.8,1353.93 1925.53,1352.5 1931.09,1345 1934.1,1335 1934.5,1331.25 1937,1340 1940,1347.5 1943.75,1355 1947.5,1358.75 1950,1360.22 1952.5,1362.5 1955.18,1359.91 1957.87,1357.5 1961.25,1352.5 1965.05,1353.75 1969.25,1347.5 1972.5,1343.75 1976.25,1345 1980,1350 1983.75,1356.25 1987.5,1361.25 1990.62,1363.13 1993.75,1365 1996.67,1363.57 1999.58,1364.18 2002.5,1363.75 2005,1362.32 2007.5,1363.45 2010,1363.11 2012.5,1364.41 2015,1365 2017.5,1363.34 2020,1363.18 2022.5,1364.03 2025,1363.69 2027.5,1364.5 2030,1364.6 2032.5,1364.22 2035,1364.79 2037.5,1363.75 2040,1364.91 2042.5,1365.73 2045,1366.91 2047.5,1366.25 2050,1365.56 2052.5,1365.03 2055,1366.96 2057.5,1365 2060,1363.18 2062.5,1364.51 2065,1363.61 2067.5,1362.5 2070,1361.62 2072.5,1364.97 2075,1364.5 2077.5,1365.02 2080,1363.31 2082.5,1362.86 2085,1361.25 2087.5,1362 2090,1359.4 2092.5,1360.39 2095,1360 2097.59,1358.35 2100.19,1357.81 2102.78,1355 2108.6,1347.5 2111.1,1335 2112.5,1332.5 2115,1333.54 2117.5,1332.5 2120,1340 2122.5,1347.5 2126.25,1355 2128.75,1358.61 2131.25,1360 2134.38,1359.04 2137.5,1357.5 2140.62,1358.21 2143.75,1356.25 2146.25,1357.5 2148.75,1357.5 2151.88,1360.66 2155,1362.5 2157.5,1362.21 2160,1362.16 2162.5,1363.13 2165,1365 2167.5,1364.4 2170,1363.41 2172.5,1365.77 2175,1364.5 2177.5,1365.05 2180,1365.63 2182.5,1365.98 2185,1366.51 2187.5,1366.25 2190,1366.06 2192.5,1364.26 2195,1366.81 2197.5,1366.49 2200,1365.5 2202.5,1365.66 2205,1365.92 2207.5,1366.49 2210,1364.62 2212.5,1366.25 2215,1367.06 2217.5,1365.41 2220,1364.8 2222.5,1365.45 2225,1366.25 2227.5,1366.88 2230,1364.95 2232.5,1366.62 2235,1367.27 2237.5,1365.5 2240,1365.78 2242.5,1365.7 2245,1366.33 2247.5,1367.32 2250,1367 2252.5,1367.66 2255,1366.9 2257.5,1366.25"/>
<polyline transform="translate(0,0)" points="208,1357 210.4,1356.6 212.8,1356.21 215.2,1358.11 217.6,1356.35 220,1358 222.5,1358.41 225,1358.11 227.5,1357.35 230,1359.17 232.5,1357.86 235,1359.49 237.5,1360 240,1358.34 242.5,1358.21 245,1359.14 247.5,1360.31 250,1357.72 252.5,1357.86 255,1359.03 257.5,1359.92 260,1358.46 262.5,1358 265,1357.73 267.5,1359.79 270,1356.71 272.5,1359.55 275,1357.7 277.5,1357.29 280,1357.28 282.5,1358.02 285,1358.75 287.5,1359.7 290,1357.41 292.5,1358.65 295,1358.72 297.5,1357.69 300,1358 302.5,1356.66 305,1355 308.75,1358 311.41,1356.61 314.06,1356.69 316.72,1357.28 319.38,1358.99 322.03,1358.22 324.69,1357.93 327.34,1358.95 330,1358.75 332.5,1358.59 335,1358.07 337.5,1359.75 340,1359.43 342.5,1357.88 345,1359 347.5,1358.84 350,1360.03 352.5,1359.53 355,1358.03 357.5,1360.38 360,1357.45 362.5,1358.75 365,1358.36 367.5,1359.4 370,1357.23 372.5,1358.26 375,1356.62 377.5,1358.64 380,1358.85 382.5,1358.09 385,1359 387.5,1356.98 390,1357.5 392.5,1358.08 395,1357.65 397.5,1357.52 400,1357.02 402.5,1358.24 405,1357 407.5,1358.93 410,1357.75 412.5,1358.81 415,1357.17 417.5,1359.77 420,1359.5 422.5,1360.15 425,1361.47 427.5,1361.03 430,1359.35 432.5,1359.84 435,1360.95 437.5,1358.9 440,1360.54 442.5,1359.68 445,1359.66 447.5,1359.6 450,1361.25 452.5,1362.09 455,1359.84 457.5,1360.17 460,1360.58 462.5,1362.14 465,1359.37 467.5,1360.55 470,1360.82 472.5,1361.88 475,1360.5 477.5,1361.41 480,1361.39 482.5,1359.22 485,1359.51 487.5,1359.14 490,1360.76 492.5,1360.83 495,1357.91 497.5,1357.82 500,1358.75 502.5,1357.84 505,1357.84 507.5,1358.7 510,1359.05 512.5,1357.94 515,1357.06 517.5,1358.47 520,1358.31 522.5,1358.98 525,1358.75 527.5,1360.22 530,1359.25 532.5,1358.58 535,1358.85 537.5,1358.97 540,1356.78 542.5,1359.58 545,1359.1 547.5,1359.35 550,1358 552.5,1358.96 555,1357.53 557.5,1357.51 560,1356.45 562.5,1358.21 565,1356.21 567.5,1356.18 570,1356.61 572.5,1356.4 575,1357.5 577.5,1356.83 580,1355.73 582.5,1355.43 585,1355.81 587.5,1355.52 590,1356.29 592.5,1355.01 595,1357.77 597.5,1356.76 600,1356.25 602.5,1355.12 605,1355.53 607.5,1355.92 610,1356.5 612.92,1356.14 615.85,1355.42 618.78,1357.99 621.7,1356.9 624.35,1357.03 627,1353.8 629.65,1351.48 632.3,1349.4 636.7,1345 640.2,1336.1 642.9,1322.9 645.1,1306 646.2,1290 646.9,1274.6 648.2,1257 649.1,1230.5 649.9,1195.3 651.1,1160 652,1108.2 653,1064.1 654.1,1020 655,955 655.9,909 656.55,896.3 657.55,896.3 658.2,909 659,927.6 659.85,941.7 660.9,1020 661.4,1064.1 662.5,1108.2 663.2,1160 664.5,1195.3 665.8,1230.5 666.7,1257 667.8,1274.6 668.9,1292 670.4,1309.7 671.8,1322.9 674.6,1336.1 678.2,1345 680.85,1347.15 683.5,1349.4 687,1349.74 690.5,1352.9 694.05,1352.45 697.6,1354.7 700.45,1352.06 703.3,1350.5 707.3,1355.5 712.35,1342.5 715.6,1322.5 718.1,1297.5 719.5,1286.25 722.5,1305 725,1327.5 728,1347.5 731.25,1357.5 734.17,1357.37 737.08,1359.95 740,1359.5 742.5,1358.47 745,1358.13 747.5,1361.41 750,1360 752.79,1360.1 755.58,1358.8 758.38,1360.15 761.17,1358.39 763.96,1360.1 766.75,1360 769.62,1361 772.5,1358.75 775,1359.74 777.5,1358.92 780,1357.19 782.5,1357.3 785,1357.5 787.5,1356.87 790,1359.42 792.5,1359.11 795,1360.45 797.5,1360 800,1359.32 802.5,1358.86 805,1360.76 807.5,1361.25 810,1359.5 812.5,1360.87 815,1360.87 817.5,1361.08 820,1360.98 822.5,1359.4 825,1360.5 827.5,1360.14 830,1359.18 832.5,1357.65 835,1357.23 837.5,1357.67 840,1358 842.5,1357.72 845,1359.74 847.5,1361.18 850,1359.99 852.5,1362.19 855,1361.25 857.5,1362.91 860,1362.8 862.5,1360.79 865,1360.3 867.5,1360.32 870,1361.25 872.92,1361.05 875.83,1361.91 878.75,1363.75 881.56,1363.23 884.38,1363.24 887.19,1362.09 890,1360 892.5,1360.26 895,1361.19 897.5,1362.02 900,1359.92 902.5,1362.21 905,1362 907.5,1363.27 910,1362.71 912.5,1362.48 915,1361.43 917.5,1360.28 920,1361.25 922.5,1362.23 925,1360.68 927.5,1362.27 930,1362.85 932.5,1360.9 935,1361.25 937.5,1361.23 940,1363.39 942.5,1362.95 945,1362.5 947.5,1360.88 950,1360.23 952.5,1359.81 955,1360.5 957.55,1361.29 960.11,1360.38 962.66,1358.75 968.6,1350 971.6,1335 972.5,1327.5 974.5,1335 977,1350 980,1356.25 983.12,1356.3 986.25,1358.75 989.3,1357.36 992.35,1353.75 995.6,1340 998.75,1336.25 1002.5,1341.25 1006.25,1343.75 1010,1348.75 1014.85,1340 1017.35,1327.5 1019.85,1305 1022.35,1287.5 1023.75,1283.75 1026.25,1287.5 1028,1305 1030,1330 1033,1335 1036.25,1345 1039.64,1347.5 1043.36,1340 1046.25,1335 1049.5,1345 1052.5,1351.25 1056.25,1358.75 1060.1,1358.75 1063,1353.75 1066.25,1358.75 1068.75,1361.63 1071.25,1361.25 1074.38,1362.66 1077.5,1363 1080,1362.99 1082.5,1364.17 1085,1364.5 1087.5,1363.37 1090,1363.1 1092.5,1366.48 1095,1365 1097.5,1365.38 1100,1364.84 1102.5,1366.1 1105,1364.5 1107.5,1363.77 1110,1364.76 1112.5,1364.11 1115,1362.5 1117.98,1359.02 1120.96,1357.5 1123.6,1347.5 1125,1346.25 1127.5,1355 1131.25,1362.5 1134.17,1362.49 1137.08,1363.46 1140,1365 1142.5,1364.12 1145,1365.29 1147.5,1364.18 1150,1365 1152.5,1364.32 1155,1362.95 1157.5,1365.19 1160,1362.9 1162.5,1363 1165,1363.36 1167.5,1364.28 1170,1365.87 1172.5,1365 1175,1364.48 1177.5,1365.92 1180,1364.26 1182.5,1364.11 1185,1363.75 1187.5,1364.02 1190,1362.49 1192.5,1364.11 1195,1364.5 1197.5,1362.8 1200,1361.56 1202.5,1363.64 1205,1362 1207.5,1361.64 1210,1363.41 1212.5,1365.02 1215,1365 1217.5,1365.09 1220,1364.21 1222.5,1364.76 1225,1364.79 1227.5,1364.5 1230,1365.32 1232.5,1362.86 1235,1364.26 1237.5,1363.04 1240,1363.75 1242.5,1363.14 1245,1364.98 1247.5,1364.23 1250,1364.56 1252.5,1364.5 1255,1365.48 1257.5,1366.1 1260,1364.61 1262.5,1365.28 1265,1365 1267.5,1364.71 1270,1364.42 1272.5,1364.72 1275,1363.75 1277.5,1363.59 1280,1363.86 1282.5,1363.68 1285,1363.75 1287.5,1364.31 1290,1362.55 1292.5,1362.22 1295,1360 1297.53,1360.67 1300.06,1357.52 1302.59,1357.5 1305.01,1355.2 1307.43,1354.01 1309.85,1350 1313.1,1335 1315.6,1310 1318.1,1285 1320.6,1262.5 1322.72,1261 1324.5,1254.25 1326.25,1261 1328,1285 1330,1315 1332,1335 1334.5,1347.5 1337.5,1356.25 1340,1359.28 1342.5,1360 1345.62,1360.27 1348.75,1363 1351.67,1362.38 1354.58,1364.14 1357.5,1365 1360,1363.45 1362.5,1363.92 1365,1363.25 1367.5,1365.18 1370,1364.5 1372.5,1365.67 1375,1366.25 1377.5,1363.93 1380,1366.03 1382.5,1365.5 1385,1365.84 1387.5,1363.89 1390,1366.2 1392.5,1366.29 1395,1364.5 1397.5,1363.65 1400,1366.24 1402.5,1364.45 1405,1364.86 1407.5,1365 1410,1366.57 1412.5,1365.93 1415,1363.55 1417.5,1364.37 1420,1364.5 1422.5,1364.4 1425,1363.65 1427.5,1363.02 1430,1363.28 1432.5,1363.75 1435,1364.76 1437.5,1362.62 1440,1364.68 1442.5,1364.55 1445,1365 1447.5,1363.11 1450,1363.93 1452.5,1364.67 1455,1364.04 1457.5,1363.75 1460.62,1362.89 1463.75,1365 1466.88,1365.4 1470,1362.5 1473.15,1362.23 1476.3,1360 1479.16,1359.1 1482.02,1355 1486.1,1345 1489.1,1332.5 1491.1,1320 1492.35,1308.75 1495.46,1302.5 1497.5,1296.25 1500,1303.75 1503.75,1308.75 1507.5,1311.25 1510.5,1322.5 1513,1337.5 1515.5,1346.25 1519.85,1340 1523.1,1325 1526.1,1310 1529.1,1297.5 1531.25,1296.25 1533,1307.5 1535,1322.5 1537.5,1337.5 1540,1351.25 1543.75,1356.25 1547.5,1361.25 1550,1361.16 1552.5,1363.75 1555,1362.7 1557.5,1361.68 1560,1363 1562.5,1363.78 1565,1361.89 1567.5,1362.5 1570.14,1359.37 1572.78,1358.75 1576.25,1353.75 1578.75,1360 1582.5,1363.75 1585,1363.8 1587.5,1365.77 1590,1365.77 1592.5,1365 1595,1363.93 1597.5,1363.31 1600,1365.68 1602.5,1364.24 1605,1363.75 1607.5,1364.72 1610,1362.94 1612.5,1363.12 1615,1365.56 1617.5,1364.95 1620,1365.5 1622.5,1363.96 1625,1366.82 1627.5,1365.71 1630,1366.19 1632.5,1363.67 1635,1365 1637.5,1366.63 1640,1364.36 1642.5,1366.25 1645,1367.17 1647.5,1365.47 1650,1364.77 1652.5,1365 1655,1365.1 1657.5,1366.28 1660,1363.96 1662.5,1363.41 1665,1364.67 1667.5,1364.5 1670,1363.49 1672.5,1362.92 1675,1362.97 1677.5,1362.47 1680,1362.86 1682.5,1363.75 1685,1363.46 1687.5,1363.79 1690,1365.68 1692.5,1364.44 1695,1365.5 1697.5,1365.3 1700,1364 1702.5,1364.38 1705,1363.06 1707.5,1364.5 1710,1363.15 1712.5,1361.85 1715,1363.79 1717.5,1362.5 1720.03,1361.42 1722.56,1358.94 1725.09,1358.75 1728.34,1355.54 1731.6,1352.5 1736.25,1346.25 1739.47,1347.73 1742.69,1346.25 1747.35,1337.5 1749.85,1320 1751.6,1307.5 1752.5,1303.75 1755.5,1312.5 1758,1325 1760,1340 1762.5,1352.5 1766.25,1358.75 1769.38,1359.29 1772.5,1362.5 1775,1364 1777.5,1363.1 1780,1363.75 1782.5,1363.32 1785,1364.05 1787.5,1362.5 1790.62,1360.26 1793.75,1358.75 1796.25,1363.75 1800,1367.5 1802.5,1366.02 1805,1364.5 1807.5,1364.95 1810,1365.77 1812.5,1363.4 1815,1363.75 1817.5,1365.23 1820,1365.15 1822.5,1365.26 1825,1364.83 1827.5,1365.5 1830,1364.88 1832.5,1363.78 1835,1363.94 1837.5,1363.64 1840,1365 1842.5,1365.72 1845,1363.97 1847.5,1363.56 1850,1363.19 1852.5,1364.5 1855,1365.76 1857.5,1365.96 1860,1365.38 1862.5,1364.16 1865,1365 1867.5,1364.12 1870,1364.3 1872.5,1364.86 1875,1363.84 1877.5,1365 1880.58,1364.65 1883.67,1363.86 1886.75,1364.5 1889.44,1366.07 1892.12,1366.11 1894.81,1364.66 1897.5,1364.5 1901.25,1361.25 1903.75,1362.01 1906.25,1364.5 1909.38,1364.46 1912.5,1361.25 1915.02,1359.77 1917.55,1359.1 1920.07,1358.75 1922.8,1353.93 1925.53,1352.5 1931.09,1345 1934.1,1335 1934.5,1331.25 1937,1340 1940,1347.5 1943.75,1355 1947.5,1358.75 1950,1360.22 1952.5,1362.5 1955.18,1359.91 1957.87,1357.5 1961.25,1352.5 1965.05,1353.75 1969.25,1347.5 1972.5,1343.75 1976.25,1345 1980,1350 1983.75,1356.25 1987.5,1361.25 1990.62,1363.13 1993.75,1365 1996.67,1363.57 1999.58,1364.18 2002.5,1363.75 2005,1362.32 2007.5,1363.45 2010,1363.11 2012.5,1364.41 2015,1365 2017.5,1363.34 2020,1363.18 2022.5,1364.03 2025,1363.69 2027.5,1364.5 2030,1364.6 2032.5,1364.22 2035,1364.79 2037.5,1363.75 2040,1364.91 2042.5,1365.73 2045,1366.91 2047.5,1366.25 2050,1365.56 2052.5,1365.03 2055,1366.96 2057.5,1365 2060,1363.18 2062.5,1364.51 2065,1363.61 2067.5,1362.5 2070,1361.62 2072.5,1364.97 2075,1364.5 2077.5,1365.02 2080,1363.31 2082.5,1362.86 2085,1361.25 2087.5,1362 2090,1359.4 2092.5,1360.39 2095,1360 2097.59,1358.35 2100.19,1357.81 2102.78,1355 2108.6,1347.5 2111.1,1335 2112.5,1332.5 2115,1333.54 2117.5,1332.5 2120,1340 2122.5,1347.5 2126.25,1355 2128.75,1358.61 2131.25,1360 2134.38,1359.04 2137.5,1357.5 2140.62,1358.21 2143.75,1356.25 2146.25,1357.5 2148.75,1357.5 2151.88,1360.66 2155,1362.5 2157.5,1362.21 2160,1362.16 2162.5,1363.13 2165,1365 2167.5,1364.4 2170,1363.41 2172.5,1365.77 2175,1364.5 2177.5,1365.05 2180,1365.63 2182.5,1365.98 2185,1366.51 2187.5,1366.25 2190,1366.06 2192.5,1364.26 2195,1366.81 2197.5,1366.49 2200,1365.5 2202.5,1365.66 2205,1365.92 2207.5,1366.49 2210,1364.62 2212.5,1366.25 2215,1367.06 2217.5,1365.41 2220,1364.8 2222.5,1365.45 2225,1366.25 2227.5,1366.88 2230,1364.95 2232.5,1366.62 2235,1367.27 2237.5,1365.5 2240,1365.78 2242.5,1365.7 2245,1366.33 2247.5,1367.32 2250,1367 2252.5,1367.66 2255,1366.9 2257.5,1366.25"/>
<polyline transform="translate(0,1.45)" points="208,1357 210.4,1356.6 212.8,1356.21 215.2,1358.11 217.6,1356.35 220,1358 222.5,1358.41 225,1358.11 227.5,1357.35 230,1359.17 232.5,1357.86 235,1359.49 237.5,1360 240,1358.34 242.5,1358.21 245,1359.14 247.5,1360.31 250,1357.72 252.5,1357.86 255,1359.03 257.5,1359.92 260,1358.46 262.5,1358 265,1357.73 267.5,1359.79 270,1356.71 272.5,1359.55 275,1357.7 277.5,1357.29 280,1357.28 282.5,1358.02 285,1358.75 287.5,1359.7 290,1357.41 292.5,1358.65 295,1358.72 297.5,1357.69 300,1358 302.5,1356.66 305,1355 308.75,1358 311.41,1356.61 314.06,1356.69 316.72,1357.28 319.38,1358.99 322.03,1358.22 324.69,1357.93 327.34,1358.95 330,1358.75 332.5,1358.59 335,1358.07 337.5,1359.75 340,1359.43 342.5,1357.88 345,1359 347.5,1358.84 350,1360.03 352.5,1359.53 355,1358.03 357.5,1360.38 360,1357.45 362.5,1358.75 365,1358.36 367.5,1359.4 370,1357.23 372.5,1358.26 375,1356.62 377.5,1358.64 380,1358.85 382.5,1358.09 385,1359 387.5,1356.98 390,1357.5 392.5,1358.08 395,1357.65 397.5,1357.52 400,1357.02 402.5,1358.24 405,1357 407.5,1358.93 410,1357.75 412.5,1358.81 415,1357.17 417.5,1359.77 420,1359.5 422.5,1360.15 425,1361.47 427.5,1361.03 430,1359.35 432.5,1359.84 435,1360.95 437.5,1358.9 440,1360.54 442.5,1359.68 445,1359.66 447.5,1359.6 450,1361.25 452.5,1362.09 455,1359.84 457.5,1360.17 460,1360.58 462.5,1362.14 465,1359.37 467.5,1360.55 470,1360.82 472.5,1361.88 475,1360.5 477.5,1361.41 480,1361.39 482.5,1359.22 485,1359.51 487.5,1359.14 490,1360.76 492.5,1360.83 495,1357.91 497.5,1357.82 500,1358.75 502.5,1357.84 505,1357.84 507.5,1358.7 510,1359.05 512.5,1357.94 515,1357.06 517.5,1358.47 520,1358.31 522.5,1358.98 525,1358.75 527.5,1360.22 530,1359.25 532.5,1358.58 535,1358.85 537.5,1358.97 540,1356.78 542.5,1359.58 545,1359.1 547.5,1359.35 550,1358 552.5,1358.96 555,1357.53 557.5,1357.51 560,1356.45 562.5,1358.21 565,1356.21 567.5,1356.18 570,1356.61 572.5,1356.4 575,1357.5 577.5,1356.83 580,1355.73 582.5,1355.43 585,1355.81 587.5,1355.52 590,1356.29 592.5,1355.01 595,1357.77 597.5,1356.76 600,1356.25 602.5,1355.12 605,1355.53 607.5,1355.92 610,1356.5 612.92,1356.14 615.85,1355.42 618.78,1357.99 621.7,1356.9 624.35,1357.03 627,1353.8 629.65,1351.48 632.3,1349.4 636.7,1345 640.2,1336.1 642.9,1322.9 645.1,1306 646.2,1290 646.9,1274.6 648.2,1257 649.1,1230.5 649.9,1195.3 651.1,1160 652,1108.2 653,1064.1 654.1,1020 655,955 655.9,909 656.55,896.3 657.55,896.3 658.2,909 659,927.6 659.85,941.7 660.9,1020 661.4,1064.1 662.5,1108.2 663.2,1160 664.5,1195.3 665.8,1230.5 666.7,1257 667.8,1274.6 668.9,1292 670.4,1309.7 671.8,1322.9 674.6,1336.1 678.2,1345 680.85,1347.15 683.5,1349.4 687,1349.74 690.5,1352.9 694.05,1352.45 697.6,1354.7 700.45,1352.06 703.3,1350.5 707.3,1355.5 712.35,1342.5 715.6,1322.5 718.1,1297.5 719.5,1286.25 722.5,1305 725,1327.5 728,1347.5 731.25,1357.5 734.17,1357.37 737.08,1359.95 740,1359.5 742.5,1358.47 745,1358.13 747.5,1361.41 750,1360 752.79,1360.1 755.58,1358.8 758.38,1360.15 761.17,1358.39 763.96,1360.1 766.75,1360 769.62,1361 772.5,1358.75 775,1359.74 777.5,1358.92 780,1357.19 782.5,1357.3 785,1357.5 787.5,1356.87 790,1359.42 792.5,1359.11 795,1360.45 797.5,1360 800,1359.32 802.5,1358.86 805,1360.76 807.5,1361.25 810,1359.5 812.5,1360.87 815,1360.87 817.5,1361.08 820,1360.98 822.5,1359.4 825,1360.5 827.5,1360.14 830,1359.18 832.5,1357.65 835,1357.23 837.5,1357.67 840,1358 842.5,1357.72 845,1359.74 847.5,1361.18 850,1359.99 852.5,1362.19 855,1361.25 857.5,1362.91 860,1362.8 862.5,1360.79 865,1360.3 867.5,1360.32 870,1361.25 872.92,1361.05 875.83,1361.91 878.75,1363.75 881.56,1363.23 884.38,1363.24 887.19,1362.09 890,1360 892.5,1360.26 895,1361.19 897.5,1362.02 900,1359.92 902.5,1362.21 905,1362 907.5,1363.27 910,1362.71 912.5,1362.48 915,1361.43 917.5,1360.28 920,1361.25 922.5,1362.23 925,1360.68 927.5,1362.27 930,1362.85 932.5,1360.9 935,1361.25 937.5,1361.23 940,1363.39 942.5,1362.95 945,1362.5 947.5,1360.88 950,1360.23 952.5,1359.81 955,1360.5 957.55,1361.29 960.11,1360.38 962.66,1358.75 968.6,1350 971.6,1335 972.5,1327.5 974.5,1335 977,1350 980,1356.25 983.12,1356.3 986.25,1358.75 989.3,1357.36 992.35,1353.75 995.6,1340 998.75,1336.25 1002.5,1341.25 1006.25,1343.75 1010,1348.75 1014.85,1340 1017.35,1327.5 1019.85,1305 1022.35,1287.5 1023.75,1283.75 1026.25,1287.5 1028,1305 1030,1330 1033,1335 1036.25,1345 1039.64,1347.5 1043.36,1340 1046.25,1335 1049.5,1345 1052.5,1351.25 1056.25,1358.75 1060.1,1358.75 1063,1353.75 1066.25,1358.75 1068.75,1361.63 1071.25,1361.25 1074.38,1362.66 1077.5,1363 1080,1362.99 1082.5,1364.17 1085,1364.5 1087.5,1363.37 1090,1363.1 1092.5,1366.48 1095,1365 1097.5,1365.38 1100,1364.84 1102.5,1366.1 1105,1364.5 1107.5,1363.77 1110,1364.76 1112.5,1364.11 1115,1362.5 1117.98,1359.02 1120.96,1357.5 1123.6,1347.5 1125,1346.25 1127.5,1355 1131.25,1362.5 1134.17,1362.49 1137.08,1363.46 1140,1365 1142.5,1364.12 1145,1365.29 1147.5,1364.18 1150,1365 1152.5,1364.32 1155,1362.95 1157.5,1365.19 1160,1362.9 1162.5,1363 1165,1363.36 1167.5,1364.28 1170,1365.87 1172.5,1365 1175,1364.48 1177.5,1365.92 1180,1364.26 1182.5,1364.11 1185,1363.75 1187.5,1364.02 1190,1362.49 1192.5,1364.11 1195,1364.5 1197.5,1362.8 1200,1361.56 1202.5,1363.64 1205,1362 1207.5,1361.64 1210,1363.41 1212.5,1365.02 1215,1365 1217.5,1365.09 1220,1364.21 1222.5,1364.76 1225,1364.79 1227.5,1364.5 1230,1365.32 1232.5,1362.86 1235,1364.26 1237.5,1363.04 1240,1363.75 1242.5,1363.14 1245,1364.98 1247.5,1364.23 1250,1364.56 1252.5,1364.5 1255,1365.48 1257.5,1366.1 1260,1364.61 1262.5,1365.28 1265,1365 1267.5,1364.71 1270,1364.42 1272.5,1364.72 1275,1363.75 1277.5,1363.59 1280,1363.86 1282.5,1363.68 1285,1363.75 1287.5,1364.31 1290,1362.55 1292.5,1362.22 1295,1360 1297.53,1360.67 1300.06,1357.52 1302.59,1357.5 1305.01,1355.2 1307.43,1354.01 1309.85,1350 1313.1,1335 1315.6,1310 1318.1,1285 1320.6,1262.5 1322.72,1261 1324.5,1254.25 1326.25,1261 1328,1285 1330,1315 1332,1335 1334.5,1347.5 1337.5,1356.25 1340,1359.28 1342.5,1360 1345.62,1360.27 1348.75,1363 1351.67,1362.38 1354.58,1364.14 1357.5,1365 1360,1363.45 1362.5,1363.92 1365,1363.25 1367.5,1365.18 1370,1364.5 1372.5,1365.67 1375,1366.25 1377.5,1363.93 1380,1366.03 1382.5,1365.5 1385,1365.84 1387.5,1363.89 1390,1366.2 1392.5,1366.29 1395,1364.5 1397.5,1363.65 1400,1366.24 1402.5,1364.45 1405,1364.86 1407.5,1365 1410,1366.57 1412.5,1365.93 1415,1363.55 1417.5,1364.37 1420,1364.5 1422.5,1364.4 1425,1363.65 1427.5,1363.02 1430,1363.28 1432.5,1363.75 1435,1364.76 1437.5,1362.62 1440,1364.68 1442.5,1364.55 1445,1365 1447.5,1363.11 1450,1363.93 1452.5,1364.67 1455,1364.04 1457.5,1363.75 1460.62,1362.89 1463.75,1365 1466.88,1365.4 1470,1362.5 1473.15,1362.23 1476.3,1360 1479.16,1359.1 1482.02,1355 1486.1,1345 1489.1,1332.5 1491.1,1320 1492.35,1308.75 1495.46,1302.5 1497.5,1296.25 1500,1303.75 1503.75,1308.75 1507.5,1311.25 1510.5,1322.5 1513,1337.5 1515.5,1346.25 1519.85,1340 1523.1,1325 1526.1,1310 1529.1,1297.5 1531.25,1296.25 1533,1307.5 1535,1322.5 1537.5,1337.5 1540,1351.25 1543.75,1356.25 1547.5,1361.25 1550,1361.16 1552.5,1363.75 1555,1362.7 1557.5,1361.68 1560,1363 1562.5,1363.78 1565,1361.89 1567.5,1362.5 1570.14,1359.37 1572.78,1358.75 1576.25,1353.75 1578.75,1360 1582.5,1363.75 1585,1363.8 1587.5,1365.77 1590,1365.77 1592.5,1365 1595,1363.93 1597.5,1363.31 1600,1365.68 1602.5,1364.24 1605,1363.75 1607.5,1364.72 1610,1362.94 1612.5,1363.12 1615,1365.56 1617.5,1364.95 1620,1365.5 1622.5,1363.96 1625,1366.82 1627.5,1365.71 1630,1366.19 1632.5,1363.67 1635,1365 1637.5,1366.63 1640,1364.36 1642.5,1366.25 1645,1367.17 1647.5,1365.47 1650,1364.77 1652.5,1365 1655,1365.1 1657.5,1366.28 1660,1363.96 1662.5,1363.41 1665,1364.67 1667.5,1364.5 1670,1363.49 1672.5,1362.92 1675,1362.97 1677.5,1362.47 1680,1362.86 1682.5,1363.75 1685,1363.46 1687.5,1363.79 1690,1365.68 1692.5,1364.44 1695,1365.5 1697.5,1365.3 1700,1364 1702.5,1364.38 1705,1363.06 1707.5,1364.5 1710,1363.15 1712.5,1361.85 1715,1363.79 1717.5,1362.5 1720.03,1361.42 1722.56,1358.94 1725.09,1358.75 1728.34,1355.54 1731.6,1352.5 1736.25,1346.25 1739.47,1347.73 1742.69,1346.25 1747.35,1337.5 1749.85,1320 1751.6,1307.5 1752.5,1303.75 1755.5,1312.5 1758,1325 1760,1340 1762.5,1352.5 1766.25,1358.75 1769.38,1359.29 1772.5,1362.5 1775,1364 1777.5,1363.1 1780,1363.75 1782.5,1363.32 1785,1364.05 1787.5,1362.5 1790.62,1360.26 1793.75,1358.75 1796.25,1363.75 1800,1367.5 1802.5,1366.02 1805,1364.5 1807.5,1364.95 1810,1365.77 1812.5,1363.4 1815,1363.75 1817.5,1365.23 1820,1365.15 1822.5,1365.26 1825,1364.83 1827.5,1365.5 1830,1364.88 1832.5,1363.78 1835,1363.94 1837.5,1363.64 1840,1365 1842.5,1365.72 1845,1363.97 1847.5,1363.56 1850,1363.19 1852.5,1364.5 1855,1365.76 1857.5,1365.96 1860,1365.38 1862.5,1364.16 1865,1365 1867.5,1364.12 1870,1364.3 1872.5,1364.86 1875,1363.84 1877.5,1365 1880.58,1364.65 1883.67,1363.86 1886.75,1364.5 1889.44,1366.07 1892.12,1366.11 1894.81,1364.66 1897.5,1364.5 1901.25,1361.25 1903.75,1362.01 1906.25,1364.5 1909.38,1364.46 1912.5,1361.25 1915.02,1359.77 1917.55,1359.1 1920.07,1358.75 1922.8,1353.93 1925.53,1352.5 1931.09,1345 1934.1,1335 1934.5,1331.25 1937,1340 1940,1347.5 1943.75,1355 1947.5,1358.75 1950,1360.22 1952.5,1362.5 1955.18,1359.91 1957.87,1357.5 1961.25,1352.5 1965.05,1353.75 1969.25,1347.5 1972.5,1343.75 1976.25,1345 1980,1350 1983.75,1356.25 1987.5,1361.25 1990.62,1363.13 1993.75,1365 1996.67,1363.57 1999.58,1364.18 2002.5,1363.75 2005,1362.32 2007.5,1363.45 2010,1363.11 2012.5,1364.41 2015,1365 2017.5,1363.34 2020,1363.18 2022.5,1364.03 2025,1363.69 2027.5,1364.5 2030,1364.6 2032.5,1364.22 2035,1364.79 2037.5,1363.75 2040,1364.91 2042.5,1365.73 2045,1366.91 2047.5,1366.25 2050,1365.56 2052.5,1365.03 2055,1366.96 2057.5,1365 2060,1363.18 2062.5,1364.51 2065,1363.61 2067.5,1362.5 2070,1361.62 2072.5,1364.97 2075,1364.5 2077.5,1365.02 2080,1363.31 2082.5,1362.86 2085,1361.25 2087.5,1362 2090,1359.4 2092.5,1360.39 2095,1360 2097.59,1358.35 2100.19,1357.81 2102.78,1355 2108.6,1347.5 2111.1,1335 2112.5,1332.5 2115,1333.54 2117.5,1332.5 2120,1340 2122.5,1347.5 2126.25,1355 2128.75,1358.61 2131.25,1360 2134.38,1359.04 2137.5,1357.5 2140.62,1358.21 2143.75,1356.25 2146.25,1357.5 2148.75,1357.5 2151.88,1360.66 2155,1362.5 2157.5,1362.21 2160,1362.16 2162.5,1363.13 2165,1365 2167.5,1364.4 2170,1363.41 2172.5,1365.77 2175,1364.5 2177.5,1365.05 2180,1365.63 2182.5,1365.98 2185,1366.51 2187.5,1366.25 2190,1366.06 2192.5,1364.26 2195,1366.81 2197.5,1366.49 2200,1365.5 2202.5,1365.66 2205,1365.92 2207.5,1366.49 2210,1364.62 2212.5,1366.25 2215,1367.06 2217.5,1365.41 2220,1364.8 2222.5,1365.45 2225,1366.25 2227.5,1366.88 2230,1364.95 2232.5,1366.62 2235,1367.27 2237.5,1365.5 2240,1365.78 2242.5,1365.7 2245,1366.33 2247.5,1367.32 2250,1367 2252.5,1367.66 2255,1366.9 2257.5,1366.25"/>
</g>
<path d="M208,1409 V1436.8 M208,34 V61.6 M354.536,1409 V1422.7 M354.536,34 V47.8 M501.071,1409 V1436.8 M501.071,34 V61.6 M647.607,1409 V1422.7 M647.607,34 V47.8 M794.143,1409 V1436.8 M794.143,34 V61.6 M940.679,1409 V1422.7 M940.679,34 V47.8 M1087.21,1409 V1436.8 M1087.21,34 V61.6 M1233.75,1409 V1422.7 M1233.75,34 V47.8 M1380.29,1409 V1436.8 M1380.29,34 V61.6 M1526.82,1409 V1422.7 M1526.82,34 V47.8 M1673.36,1409 V1436.8 M1673.36,34 V61.6 M1819.89,1409 V1422.7 M1819.89,34 V47.8 M1966.43,1409 V1436.8 M1966.43,34 V61.6 M2112.96,1409 V1422.7 M2112.96,34 V47.8 M2259.5,1409 V1436.8 M2259.5,34 V61.6 M2259.5,128.5 H2231.9 M2259.5,365.6 H2231.9 M2259.5,602.7 H2231.9 M2259.5,839.8 H2231.9 M2259.5,1076.9 H2231.9 M2259.5,1314 H2231.9 M2259.5,247.05 H2245.8 M2259.5,484.15 H2245.8 M2259.5,721.25 H2245.8 M2259.5,958.35 H2245.8 M2259.5,1195.45 H2245.8" fill="none" stroke="#000" stroke-width="6"/>
<path d="M208,128.5 H180.1 M208,365.6 H180.1 M208,602.7 H180.1 M208,839.8 H180.1 M208,1076.9 H180.1 M208,1314 H180.1" fill="none" stroke="#000" stroke-width="8"/>
<text class="s" x="207.8" y="1501.1" font-size="59" text-anchor="middle">10</text>
<text class="s" x="500.871" y="1501.1" font-size="59" text-anchor="middle">20</text>
<text class="s" x="793.943" y="1501.1" font-size="59" text-anchor="middle">30</text>
<text class="s" x="1087.01" y="1501.1" font-size="59" text-anchor="middle">40</text>
<text class="s" x="1380.09" y="1501.1" font-size="59" text-anchor="middle">50</text>
<text class="s" x="1673.16" y="1501.1" font-size="59" text-anchor="middle">60</text>
<text class="s" x="1966.23" y="1501.1" font-size="59" text-anchor="middle">70</text>
<text class="s" x="2259.3" y="1501.1" font-size="59" text-anchor="middle">80</text>
<text class="s" y="1623" font-size="73.5"><tspan x="1026.2">2</tspan><tspan x="1068.4" font-size="73" textLength="41" lengthAdjust="spacingAndGlyphs" style="font-family:'Liberation Serif',serif">θ</tspan><tspan x="1105.8"> (degrees)</tspan></text>
<text class="s" transform="translate(79.2,673.9) rotate(-90)" font-size="73.3" text-anchor="middle">Normalized Intensity (counts)</text>
<line x1="1687" x2="1812" y1="188.4" y2="188.4" stroke="#0000ff" stroke-width="7" stroke-linecap="round"/>
<text class="s" x="1829.3" y="207.8" font-size="56.9">Fe-AOL</text>
<line x1="1687" x2="1812" y1="257.9" y2="257.9" stroke="#008000" stroke-width="7" stroke-linecap="round"/>
<text class="s" x="1829.3" y="277.2" font-size="56.9">Cu-AOL</text>
<line x1="1687" x2="1812" y1="327.4" y2="327.4" stroke="#ff3737" stroke-width="7" stroke-linecap="round"/>
<text class="s" x="1829.3" y="346.5" font-size="56.9">AOL</text>
<line x1="1687" x2="1812" y1="396.8" y2="396.8" stroke="#000000" stroke-width="7" stroke-linecap="round"/>
<text class="s" x="1829.3" y="415.6" font-size="56.9">Evonik P25</text>
<text class="b" x="270.5" y="1254.3">A - Anatase</text>
<text class="b" x="271.5" y="1308">R - Rutile</text>
<text class="b" x="686.2" y="1009.5" text-anchor="middle">A</text>
<text class="b" x="720.2" y="1260.5" text-anchor="middle">R</text>
<text class="b" x="971.2" y="1302.5" text-anchor="middle">R</text>
<text class="b" x="1023.5" y="1263.75" text-anchor="middle">A</text>
<text class="b" x="1122.5" y="1330.5" text-anchor="middle">R</text>
<text class="b" x="1320.2" y="1232.8" text-anchor="middle">A</text>
<text class="b" x="1492.5" y="1279.6" text-anchor="middle">A</text>
<text class="b" x="1529.2" y="1277" text-anchor="middle">A</text>
<text class="b" x="1749.2" y="1288" text-anchor="middle">A</text>
<text class="b" x="1929.9" y="1309" text-anchor="middle">A</text>
<text class="b" x="1972.4" y="1311" text-anchor="middle">A</text>
<text class="b" x="2117.4" y="1313" text-anchor="middle">A</text>
</svg></body></html>
